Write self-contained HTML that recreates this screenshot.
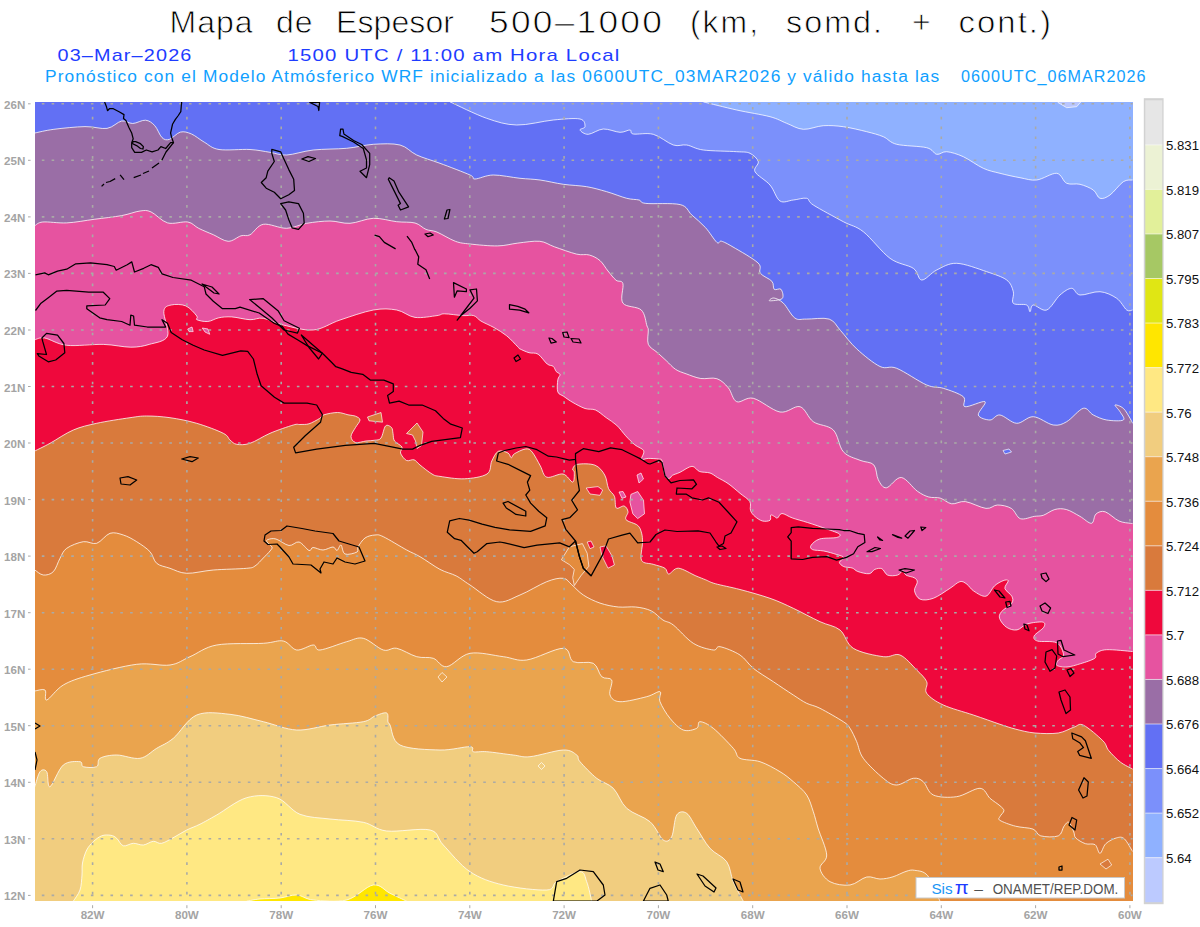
<!DOCTYPE html>
<html><head><meta charset="utf-8"><style>
html,body{margin:0;padding:0;background:#fff;width:1200px;height:927px;overflow:hidden}
svg{display:block}
</style></head><body>
<svg width="1200" height="927" viewBox="0 0 1200 927">
<rect width="1200" height="927" fill="#fff"/>
<text x="169.5" y="33.3" font-family="Liberation Sans, sans-serif" font-size="32" fill="#000" textLength="83.0" lengthAdjust="spacing" stroke="#fff" stroke-width="0.8">Mapa</text><text x="276" y="33.3" font-family="Liberation Sans, sans-serif" font-size="32" fill="#000" textLength="36.5" lengthAdjust="spacing" stroke="#fff" stroke-width="0.8">de</text><text x="336" y="33.3" font-family="Liberation Sans, sans-serif" font-size="32" fill="#000" textLength="118.0" lengthAdjust="spacing" stroke="#fff" stroke-width="0.8">Espesor</text><text x="489" y="33.3" font-family="Liberation Sans, sans-serif" font-size="32" fill="#000" textLength="175.0" stroke="#fff" stroke-width="0.8" letter-spacing="2" lengthAdjust="spacingAndGlyphs">500&#8211;1000</text><text x="690" y="33.3" font-family="Liberation Sans, sans-serif" font-size="32" fill="#000" textLength="70.0" stroke="#fff" stroke-width="0.8" letter-spacing="2" lengthAdjust="spacingAndGlyphs">(km,</text><text x="786" y="33.3" font-family="Liberation Sans, sans-serif" font-size="32" fill="#000" textLength="98.0" stroke="#fff" stroke-width="0.8" letter-spacing="2" lengthAdjust="spacingAndGlyphs">somd.</text><text x="912" y="33.3" font-family="Liberation Sans, sans-serif" font-size="32" fill="#000" textLength="21.0" lengthAdjust="spacing" stroke="#fff" stroke-width="0.8">+</text><text x="958.5" y="33.3" font-family="Liberation Sans, sans-serif" font-size="32" fill="#000" textLength="94.5" stroke="#fff" stroke-width="0.8" letter-spacing="2" lengthAdjust="spacingAndGlyphs">cont.)</text><text x="57.5" y="60.6" font-family="Liberation Sans, sans-serif" font-size="17" fill="#1e3cff" textLength="135.0" letter-spacing="1" lengthAdjust="spacingAndGlyphs">03&#8211;Mar&#8211;2026</text><text x="287.5" y="60.6" font-family="Liberation Sans, sans-serif" font-size="17" fill="#1e3cff" textLength="333.0" letter-spacing="1" lengthAdjust="spacingAndGlyphs">1500 UTC / 11:00 am Hora Local</text><text x="45" y="82.2" font-family="Liberation Sans, sans-serif" font-size="15.6" fill="#10a0ff" textLength="895.4" letter-spacing="1" lengthAdjust="spacingAndGlyphs">Pronóstico con el Modelo Atmósferico WRF inicializado a las 0600UTC_03MAR2026 y válido hasta las</text><text x="961" y="82.2" font-family="Liberation Sans, sans-serif" font-size="15.6" fill="#10a0ff" textLength="185.6" letter-spacing="1" lengthAdjust="spacingAndGlyphs">0600UTC_06MAR2026</text>
<defs><clipPath id="mc"><rect x="35" y="102" width="1098" height="799"/></clipPath></defs>
<g clip-path="url(#mc)">
<rect x="19.799999999999997" y="86.9" width="1127.8" height="829.3" fill="#8fb1ff"/><path d="M703.3,86.9 L703.3,101.9 C708.9,103.2 725.6,107.5 736.7,110.0 C747.8,112.5 761.7,114.5 770.0,116.7 C778.3,118.9 781.2,121.2 786.7,123.3 C792.2,125.4 797.2,128.9 803.3,129.3 C809.4,129.7 816.6,126.1 823.3,125.7 C830.0,125.3 836.1,125.7 843.3,126.7 C850.5,127.7 860.0,130.0 866.7,131.7 C873.4,133.4 878.3,134.6 883.3,136.7 C888.3,138.8 889.5,142.5 896.7,144.3 C903.9,146.1 920.0,146.0 926.7,147.7 C933.4,149.4 933.4,153.6 936.7,154.3 C940.0,155.0 942.3,151.3 946.7,151.7 C951.1,152.1 957.2,153.9 963.3,156.7 C969.4,159.5 977.2,165.5 983.3,168.3 C989.4,171.1 993.9,171.7 1000.0,173.3 C1006.1,174.9 1013.9,176.6 1020.0,177.7 C1026.1,178.8 1030.6,180.7 1036.7,180.0 C1042.8,179.3 1051.7,172.8 1056.7,173.3 C1061.7,173.9 1062.8,181.5 1066.7,183.3 C1070.6,185.1 1075.6,183.2 1080.0,184.3 C1084.4,185.4 1090.0,187.7 1093.3,190.0 C1096.6,192.3 1097.2,197.5 1100.0,198.3 C1102.8,199.1 1106.1,197.8 1110.0,195.0 C1113.9,192.2 1119.5,184.2 1123.3,181.7 C1127.1,179.2 1131.0,180.3 1132.6,180.0 L1147.6,180.0 L1147.6,916.2 L19.8,916.2 L19.8,86.9 Z" fill="#7b90fb"/><path d="M450.0,86.9 L450.0,101.9 C456.1,104.6 475.6,114.5 486.7,118.3 C497.8,122.1 505.6,124.7 516.7,125.0 C527.8,125.3 542.8,121.0 553.3,120.0 C563.8,119.0 574.7,117.9 580.0,119.0 C585.3,120.1 585.0,124.9 585.0,126.7 C585.0,128.5 579.5,128.7 580.0,130.0 C580.5,131.3 584.4,134.5 588.3,134.3 C592.2,134.1 598.0,129.3 603.3,129.0 C608.6,128.7 615.5,132.1 620.0,132.3 C624.5,132.5 627.8,129.7 630.0,130.0 C632.2,130.3 629.4,133.3 633.3,134.0 C637.2,134.7 646.6,132.5 653.3,134.3 C660.0,136.1 667.7,143.2 673.3,145.0 C678.9,146.8 681.7,144.2 686.7,145.0 C691.7,145.8 695.0,148.9 703.3,150.0 C711.6,151.1 728.9,151.1 736.7,151.7 C744.5,152.2 746.4,151.6 750.0,153.3 C753.6,155.0 757.5,158.6 758.3,161.7 C759.1,164.8 753.0,167.8 755.0,171.7 C757.0,175.6 765.8,180.1 770.0,185.0 C774.2,189.9 776.1,198.5 780.0,201.0 C783.9,203.5 788.8,200.4 793.3,200.0 C797.8,199.6 803.4,197.5 806.7,198.3 C810.0,199.1 807.2,201.1 813.3,205.0 C819.4,208.9 835.0,217.2 843.3,221.7 C851.6,226.1 855.5,225.6 863.3,231.7 C871.1,237.8 881.7,252.2 890.0,258.3 C898.3,264.4 908.0,264.7 913.3,268.3 C918.6,271.9 917.8,279.7 921.7,280.0 C925.6,280.3 930.9,272.8 936.7,270.0 C942.5,267.2 948.4,263.0 956.7,263.3 C965.0,263.6 978.4,268.9 986.7,271.7 C995.0,274.5 1002.3,276.7 1006.7,280.0 C1011.1,283.3 1012.2,287.8 1013.3,291.7 C1014.4,295.6 1011.1,301.1 1013.3,303.3 C1015.5,305.5 1023.9,303.6 1026.7,305.0 C1029.5,306.4 1028.9,311.7 1030.0,311.7 C1031.1,311.7 1030.5,305.3 1033.3,305.0 C1036.1,304.7 1042.2,311.7 1046.7,310.0 C1051.2,308.3 1055.8,298.6 1060.0,295.0 C1064.2,291.4 1068.4,288.3 1071.7,288.3 C1075.0,288.3 1075.3,294.4 1080.0,295.0 C1084.7,295.6 1093.9,291.1 1100.0,291.7 C1106.1,292.2 1112.2,295.2 1116.7,298.3 C1121.2,301.4 1124.1,308.1 1126.7,310.0 C1129.3,311.9 1131.6,310.0 1132.6,310.0 L1147.6,310.0 L1147.6,916.2 L19.8,916.2 L19.8,86.9 Z" fill="#6270f4"/><path d="M19.8,133.0 L34.8,133.0 C38.0,132.4 45.5,130.4 53.9,129.3 C62.3,128.2 76.2,126.8 85.0,126.6 C93.8,126.4 100.9,129.3 107.0,128.4 C113.1,127.5 117.4,121.8 121.7,121.0 C126.0,120.2 128.7,123.6 132.7,123.5 C136.7,123.4 141.9,119.8 145.6,120.2 C149.3,120.6 152.1,122.8 154.8,125.7 C157.5,128.6 159.6,135.3 162.0,137.6 C164.4,139.9 166.3,140.3 169.4,139.4 C172.5,138.5 176.7,133.0 180.4,132.1 C184.1,131.2 187.5,132.3 191.5,134.0 C195.5,135.7 199.7,139.6 204.3,142.2 C208.9,144.8 211.4,148.3 219.0,149.5 C226.6,150.7 241.5,149.0 250.0,149.5 C258.5,150.0 263.9,151.4 270.0,152.3 C276.1,153.2 279.5,155.4 286.7,155.0 C293.9,154.6 303.3,151.1 313.3,150.0 C323.3,148.9 336.7,149.2 346.7,148.3 C356.7,147.4 364.4,144.9 373.3,144.3 C382.2,143.8 392.8,143.2 400.0,145.0 C407.2,146.8 410.0,151.9 416.7,155.0 C423.4,158.1 431.1,160.0 440.0,163.3 C448.9,166.6 464.2,172.4 470.0,175.0 C475.8,177.6 471.1,179.0 475.0,179.0 C478.9,179.0 485.8,175.1 493.3,175.0 C500.8,174.9 512.2,177.5 520.0,178.3 C527.8,179.1 532.8,179.0 540.0,180.0 C547.2,181.0 555.5,183.2 563.3,184.3 C571.1,185.4 579.5,185.5 586.7,186.7 C593.9,187.9 600.0,189.8 606.7,191.7 C613.4,193.6 621.3,196.9 626.7,198.3 C632.1,199.7 635.8,199.2 639.0,200.0 C642.2,200.8 638.9,202.6 645.8,203.4 C652.7,204.2 672.6,202.7 680.2,204.6 C687.9,206.5 687.5,211.1 691.7,214.9 C695.9,218.7 701.2,222.9 705.4,227.5 C709.6,232.1 714.2,240.1 716.9,242.4 C719.6,244.7 718.8,240.4 721.5,241.2 C724.2,242.0 726.9,243.4 733.0,247.0 C739.1,250.6 753.5,258.6 758.1,263.0 C762.7,267.4 758.1,270.2 760.4,273.3 C762.7,276.4 769.6,278.6 771.9,281.3 C774.2,284.0 772.7,288.0 774.2,289.3 C775.7,290.6 779.7,287.8 781.0,289.3 C782.3,290.8 784.1,296.6 782.2,298.5 C780.3,300.4 771.0,300.9 769.6,300.8 C768.2,300.7 771.7,297.6 774.0,298.0 C776.3,298.4 779.8,299.8 783.3,303.1 C786.8,306.4 791.0,315.3 794.8,318.0 C798.6,320.7 800.6,318.9 806.3,319.1 C812.0,319.3 823.5,317.2 829.2,319.1 C834.9,321.0 836.0,325.6 840.6,330.6 C845.2,335.6 850.1,342.9 856.7,348.9 C863.3,354.9 873.3,363.3 880.0,366.5 C886.7,369.7 888.9,365.2 896.7,368.3 C904.5,371.4 918.9,381.7 926.7,385.0 C934.5,388.3 937.2,386.4 943.3,388.3 C949.4,390.2 959.7,393.6 963.3,396.7 C966.9,399.8 961.4,405.9 965.0,406.7 C968.6,407.5 982.8,400.3 985.0,401.7 C987.2,403.1 977.5,411.9 978.3,415.0 C979.1,418.1 986.4,420.0 990.0,420.0 C993.6,420.0 995.5,414.4 1000.0,415.0 C1004.5,415.6 1011.2,423.0 1016.7,423.3 C1022.2,423.6 1027.2,416.4 1033.3,416.7 C1039.4,417.0 1047.7,424.2 1053.3,425.0 C1058.9,425.8 1061.7,424.5 1066.7,421.7 C1071.7,418.9 1078.9,409.4 1083.3,408.3 C1087.7,407.2 1089.4,413.1 1093.3,415.0 C1097.2,416.9 1101.7,419.2 1106.7,420.0 C1111.7,420.8 1121.1,421.4 1123.3,420.0 C1125.5,418.6 1121.4,414.2 1120.0,411.7 C1118.6,409.2 1114.5,405.6 1115.0,405.0 C1115.5,404.4 1120.8,406.1 1123.3,408.3 C1125.8,410.5 1128.5,415.8 1130.0,418.3 C1131.5,420.8 1132.2,422.5 1132.6,423.3 L1147.6,423.3 L1147.6,916.2 L19.8,916.2 Z" fill="#9a6ea6"/><path d="M19.8,225.7 L34.8,225.7 C36.1,225.1 37.5,222.5 42.8,222.0 C48.1,221.5 58.1,223.3 66.7,222.9 C75.3,222.5 85.0,220.5 94.2,219.3 C103.4,218.1 114.1,217.0 121.7,215.6 C129.3,214.2 135.1,211.6 140.0,211.0 C144.9,210.4 146.4,209.9 151.0,211.9 C155.6,213.9 161.5,221.2 167.6,222.9 C173.7,224.6 182.6,221.1 187.8,222.0 C193.0,222.9 194.5,226.3 198.8,228.4 C203.1,230.5 208.6,232.7 213.5,234.8 C218.4,237.0 223.6,241.1 228.2,241.3 C232.8,241.5 237.4,236.9 241.0,235.8 C244.6,234.7 246.3,236.7 250.0,234.8 C253.7,232.9 257.2,225.4 263.3,224.3 C269.4,223.2 279.5,228.5 286.7,228.3 C293.9,228.1 299.5,224.5 306.7,223.3 C313.9,222.1 322.8,221.0 330.0,221.0 C337.2,221.0 342.8,223.8 350.0,223.3 C357.2,222.9 365.5,218.6 373.3,218.3 C381.1,218.0 389.8,220.9 396.7,221.7 C403.6,222.5 410.1,221.7 415.0,223.0 C419.9,224.3 422.3,227.9 426.0,229.4 C429.7,230.9 432.1,230.1 437.0,232.1 C441.9,234.1 449.9,239.3 455.4,241.3 C460.9,243.3 463.0,243.2 470.0,244.0 C477.0,244.8 489.6,246.1 497.6,245.9 C505.6,245.8 510.8,243.9 517.8,243.1 C524.8,242.3 533.7,240.7 539.8,241.3 C545.9,241.9 548.3,244.7 554.4,246.8 C560.5,248.9 570.7,252.7 576.5,254.1 C582.3,255.5 585.4,253.9 589.3,255.0 C593.2,256.1 596.9,257.9 600.0,260.6 C603.1,263.3 605.3,267.7 608.0,271.0 C610.7,274.3 613.5,278.1 616.0,280.2 C618.5,282.3 621.8,279.8 622.9,283.6 C624.0,287.4 619.8,298.7 622.9,303.1 C626.0,307.5 637.3,306.2 641.3,310.0 C645.3,313.8 645.8,322.7 647.0,326.0 C648.2,329.3 648.1,326.9 648.3,330.0 C648.5,333.1 646.8,340.5 648.3,344.3 C649.8,348.1 654.4,349.8 657.4,352.6 C660.4,355.4 663.5,358.1 666.5,360.9 C669.5,363.7 672.2,367.1 675.5,369.3 C678.8,371.5 681.9,372.3 686.1,373.8 C690.3,375.3 695.7,377.7 700.8,378.5 C705.9,379.3 712.3,377.1 716.9,378.7 C721.5,380.2 725.0,384.0 728.3,387.8 C731.6,391.6 732.5,399.9 736.7,401.7 C740.9,403.4 746.1,396.6 753.3,398.3 C760.5,400.0 772.2,410.6 780.0,412.0 C787.8,413.4 794.5,405.1 800.0,406.7 C805.5,408.3 807.8,417.8 813.3,421.7 C818.8,425.6 828.3,425.0 833.3,430.0 C838.3,435.0 838.8,446.6 843.3,451.7 C847.8,456.8 854.9,458.1 860.0,460.3 C865.1,462.5 870.8,461.6 873.8,464.9 C876.8,468.1 876.2,476.0 878.3,479.8 C880.4,483.6 882.6,488.2 886.4,487.8 C890.2,487.4 896.1,476.9 901.3,477.5 C906.4,478.1 912.7,487.9 917.3,491.2 C921.9,494.4 925.0,495.9 928.8,497.0 C932.6,498.1 936.4,497.0 940.2,498.1 C944.0,499.2 947.5,503.2 951.7,503.8 C955.9,504.4 959.7,500.8 965.4,501.6 C971.1,502.4 980.6,507.8 986.0,508.4 C991.4,509.0 993.3,505.0 997.5,505.0 C1001.7,505.0 1007.5,506.1 1011.3,508.4 C1015.1,510.7 1016.6,517.4 1020.4,518.7 C1024.2,520.0 1030.4,517.0 1034.2,516.4 C1038.0,515.8 1039.9,516.4 1043.3,515.3 C1046.7,514.1 1051.0,510.5 1054.8,509.5 C1058.6,508.5 1062.1,508.4 1066.3,509.5 C1070.5,510.6 1075.8,514.1 1080.0,516.4 C1084.2,518.7 1088.8,523.7 1091.5,523.3 C1094.2,522.9 1093.7,515.9 1096.0,514.0 C1098.3,512.1 1101.4,510.6 1105.2,511.8 C1109.0,513.0 1114.8,519.1 1119.0,521.0 C1123.2,522.9 1128.1,522.9 1130.4,523.3 C1132.7,523.7 1132.2,523.5 1132.6,523.5 L1147.6,523.5 L1147.6,916.2 L19.8,916.2 Z" fill="#e653a0"/><path d="M19.8,339.8 L34.8,339.8 C36.4,339.5 39.4,337.1 44.7,338.0 C50.0,338.9 56.9,344.2 66.7,345.3 C76.5,346.4 92.6,344.1 103.3,344.4 C114.0,344.7 123.2,347.2 130.8,347.2 C138.5,347.2 143.1,346.2 149.2,344.4 C155.3,342.6 165.1,341.7 167.5,336.2 C169.9,330.7 163.2,316.6 163.8,311.4 C164.4,306.2 167.5,305.9 171.2,305.0 C174.9,304.1 181.5,304.1 185.8,305.9 C190.1,307.7 195.0,313.7 196.8,316.0 C198.6,318.3 195.0,318.8 196.8,319.7 C198.6,320.6 204.1,321.8 207.8,321.5 C211.5,321.2 214.8,318.6 218.8,317.8 C222.8,317.0 226.5,316.6 231.7,316.9 C236.9,317.2 244.7,319.5 250.0,319.7 C255.3,319.9 257.8,317.4 263.3,318.3 C268.9,319.2 275.0,323.1 283.3,325.0 C291.6,326.9 303.9,330.8 313.3,330.0 C322.8,329.2 330.0,323.3 340.0,320.0 C350.0,316.7 363.9,311.7 373.3,310.0 C382.8,308.3 389.8,308.8 396.7,310.0 C403.6,311.2 408.3,316.5 415.0,317.4 C421.7,318.3 432.1,316.2 437.0,315.6 C441.9,315.0 440.1,313.8 444.4,313.8 C448.7,313.8 457.8,315.3 462.7,315.6 C467.6,315.9 470.6,314.7 473.7,315.6 C476.8,316.5 477.6,319.1 481.0,321.1 C484.4,323.1 489.6,325.1 493.9,327.5 C498.2,329.9 502.7,332.6 506.7,335.8 C510.7,339.0 515.6,344.6 517.8,346.8 C520.0,349.0 518.1,347.9 520.0,348.9 C521.9,349.9 526.0,351.8 529.0,352.7 C532.0,353.6 535.1,352.3 538.1,354.2 C541.1,356.1 544.7,362.0 547.2,364.0 C549.7,366.0 551.7,365.1 553.2,366.3 C554.7,367.6 555.1,370.1 556.2,371.5 C557.3,372.9 559.7,373.1 560.0,374.5 C560.3,375.9 558.2,376.9 557.8,379.8 C557.4,382.7 556.8,389.1 557.8,391.9 C558.8,394.7 561.3,394.6 563.8,396.4 C566.3,398.2 569.4,400.5 572.9,402.5 C576.4,404.5 581.2,407.2 585.0,408.5 C588.8,409.8 592.0,408.5 595.5,410.0 C599.0,411.5 602.6,415.1 606.1,417.6 C609.6,420.1 613.3,422.2 616.6,425.2 C619.9,428.2 622.7,432.5 625.7,435.8 C628.7,439.1 631.8,442.3 634.8,444.8 C637.8,447.3 642.7,448.4 643.8,450.8 C644.9,453.2 640.8,457.8 641.5,459.1 C642.2,460.4 645.4,458.4 648.3,458.4 C651.2,458.4 656.7,458.7 659.0,459.1 C661.3,459.5 661.0,458.2 662.0,461.0 C663.0,463.8 663.8,473.1 665.0,476.0 C666.2,478.9 668.2,478.4 669.5,478.3 C670.8,478.2 670.8,476.3 672.5,475.3 C674.2,474.3 676.8,473.8 680.0,472.3 C683.2,470.8 688.8,466.4 692.0,466.3 C695.2,466.2 696.5,470.4 699.5,471.5 C702.5,472.6 707.0,472.0 710.0,473.0 C713.0,474.0 714.5,475.8 717.5,477.5 C720.5,479.2 724.2,480.9 728.0,483.5 C731.8,486.1 736.4,490.3 740.0,493.3 C743.6,496.3 748.0,498.6 749.8,501.5 C751.5,504.4 749.6,508.0 750.5,510.5 C751.4,513.0 753.0,514.8 755.0,516.5 C757.0,518.2 760.0,520.4 762.5,521.0 C765.0,521.6 768.6,521.3 770.0,520.3 C771.4,519.3 770.0,515.6 770.8,515.0 C771.5,514.4 773.4,516.0 774.5,516.5 C775.6,517.0 776.2,518.5 777.5,518.0 C778.8,517.5 779.5,513.5 782.0,513.5 C784.5,513.5 788.2,516.5 792.5,518.0 C796.8,519.5 801.8,520.7 807.5,522.5 C813.2,524.3 821.4,527.1 826.7,529.0 C832.0,530.9 837.8,532.6 839.4,534.0 C841.0,535.4 839.9,536.7 836.6,537.5 C833.3,538.3 823.9,537.7 819.6,539.0 C815.4,540.3 812.3,543.5 811.1,545.3 C809.9,547.1 810.4,548.6 812.5,549.6 C814.6,550.6 819.8,550.2 823.8,551.0 C827.8,551.8 833.3,553.4 836.6,554.5 C839.9,555.6 843.2,556.1 843.7,557.4 C844.2,558.7 839.4,560.8 839.4,562.3 C839.4,563.8 841.6,565.6 843.7,566.6 C845.8,567.6 849.9,567.2 852.2,568.0 C854.6,568.8 855.0,570.5 857.8,571.5 C860.6,572.5 866.4,574.1 869.2,573.7 C872.0,573.4 872.7,570.2 874.8,569.4 C876.9,568.6 879.8,567.8 881.9,568.7 C884.0,569.7 885.0,574.0 887.6,575.1 C890.2,576.2 894.9,575.8 897.5,575.1 C900.1,574.4 901.7,570.8 903.1,570.8 C904.5,570.8 904.1,573.9 906.0,575.1 C907.9,576.3 912.6,576.7 914.5,577.9 C916.4,579.1 917.3,580.1 917.3,582.2 C917.3,584.3 914.0,587.9 914.5,590.7 C915.0,593.5 917.0,597.9 920.1,599.2 C923.2,600.5 928.3,600.1 933.3,598.3 C938.3,596.5 945.5,591.1 950.0,588.3 C954.5,585.5 957.2,582.3 960.0,581.6 C962.8,580.9 964.6,582.6 966.9,584.2 C969.2,585.8 970.6,589.1 973.8,591.1 C977.0,593.1 982.4,597.1 985.9,596.2 C989.4,595.3 991.6,588.5 994.5,585.9 C997.4,583.3 1000.8,581.6 1003.1,580.7 C1005.4,579.8 1008.0,579.4 1008.3,580.7 C1008.6,582.0 1004.3,585.9 1004.9,588.5 C1005.5,591.1 1010.6,593.8 1011.8,596.2 C1012.9,598.6 1013.5,600.5 1011.8,603.1 C1010.1,605.7 1003.4,609.2 1001.4,611.8 C999.4,614.4 998.8,616.1 999.7,618.7 C1000.6,621.3 1003.7,625.4 1006.6,627.3 C1009.5,629.2 1013.5,630.5 1017.0,629.9 C1020.5,629.3 1023.0,625.2 1027.3,623.9 C1031.6,622.6 1040.1,621.5 1042.8,622.1 C1045.5,622.7 1045.1,625.0 1043.7,627.3 C1042.3,629.6 1035.2,633.6 1034.2,635.9 C1033.2,638.2 1034.0,640.0 1037.7,641.1 C1041.5,642.2 1052.4,640.5 1056.7,642.8 C1061.0,645.1 1063.3,652.0 1063.6,654.9 C1063.9,657.8 1059.6,658.4 1058.4,660.1 C1057.2,661.8 1055.3,664.1 1056.7,665.3 C1058.1,666.4 1063.0,667.3 1067.0,667.0 C1071.0,666.7 1076.2,665.0 1080.8,663.6 C1085.4,662.2 1092.0,660.1 1094.6,658.4 C1097.2,656.7 1094.3,654.7 1096.3,653.2 C1098.3,651.8 1100.7,650.0 1106.7,649.7 C1112.8,649.4 1128.3,651.2 1132.6,651.5 L1147.6,651.5 L1147.6,916.2 L19.8,916.2 Z" fill="#ef083c"/><path d="M19.8,451.0 L34.8,451.0 C37.3,449.7 43.6,446.8 50.0,443.3 C56.4,439.8 65.5,433.3 73.3,430.0 C81.1,426.7 87.2,425.4 96.7,423.3 C106.2,421.2 121.7,418.9 130.0,417.7 C138.3,416.5 140.0,416.0 146.7,416.0 C153.4,416.0 161.7,416.5 170.0,417.7 C178.3,418.9 187.8,420.7 196.7,423.3 C205.6,425.9 217.8,430.5 223.3,433.3 C228.9,436.1 227.8,438.2 230.0,440.0 C232.2,441.8 233.4,443.8 236.7,444.3 C240.0,444.9 244.4,445.1 250.0,443.3 C255.6,441.5 262.8,436.4 270.0,433.3 C277.2,430.2 288.3,426.5 293.3,425.0 C298.3,423.5 297.4,424.7 300.0,424.5 C302.6,424.3 305.8,424.8 309.0,423.8 C312.2,422.8 317.0,420.0 319.5,418.5 C322.0,417.0 321.0,415.8 324.0,414.8 C327.0,413.8 333.5,412.5 337.5,412.5 C341.5,412.5 345.0,414.1 348.0,414.8 C351.0,415.4 353.5,415.4 355.5,416.2 C357.5,417.1 360.0,418.1 360.0,420.0 C360.0,421.9 357.0,424.8 355.5,427.5 C354.0,430.2 351.0,434.0 351.0,436.5 C351.0,439.0 353.0,441.8 355.5,442.5 C358.0,443.2 362.8,441.4 366.0,441.0 C369.2,440.6 372.5,440.8 375.0,440.2 C377.5,439.8 379.2,440.4 381.0,438.0 C382.8,435.6 383.8,427.8 385.5,426.0 C387.2,424.2 390.2,426.2 391.5,427.5 C392.8,428.8 392.5,431.2 393.0,433.5 C393.5,435.8 393.0,438.8 394.5,441.0 C396.0,443.2 401.0,445.0 402.0,447.0 C403.0,449.0 399.8,450.8 400.5,453.0 C401.2,455.2 404.2,459.4 406.5,460.5 C408.8,461.6 411.8,459.0 414.0,459.8 C416.2,460.5 417.0,462.6 420.0,465.0 C423.0,467.4 428.7,472.1 432.0,474.0 C435.3,475.9 434.6,475.6 440.0,476.4 C445.4,477.2 456.5,479.2 464.3,478.8 C472.1,478.4 482.4,477.0 487.0,474.0 C491.6,471.0 489.9,464.8 491.8,461.0 C493.7,457.2 495.6,452.6 498.3,451.3 C501.0,450.0 505.9,451.9 508.0,453.0 C510.1,454.1 510.1,457.7 511.2,457.8 C512.3,457.9 512.0,455.3 514.4,453.8 C516.8,452.3 522.8,449.2 525.8,448.9 C528.8,448.6 529.8,449.3 532.2,452.1 C534.6,454.9 537.9,461.7 540.3,465.9 C542.7,470.1 543.0,475.8 546.8,477.2 C550.6,478.6 558.7,473.2 563.0,474.0 C567.3,474.8 570.8,482.4 572.7,482.1 C574.6,481.8 574.3,474.6 574.3,472.4 C574.3,470.2 572.2,470.5 572.7,469.1 C573.2,467.8 573.8,465.0 577.5,464.3 C581.2,463.6 590.5,463.4 595.0,465.2 C599.5,467.0 602.5,471.1 604.7,475.0 C607.0,478.9 606.9,484.9 608.5,488.5 C610.1,492.1 613.1,493.1 614.4,496.3 C615.7,499.6 614.7,506.4 616.3,508.0 C617.9,509.6 622.1,505.4 624.1,506.0 C626.1,506.6 627.7,509.5 628.0,511.8 C628.3,514.1 624.4,517.3 626.0,519.6 C627.6,521.9 635.1,523.1 637.7,525.4 C640.3,527.7 640.8,530.3 641.6,533.2 C642.4,536.1 642.5,538.4 642.5,542.9 C642.5,547.4 639.8,556.8 641.6,560.4 C643.4,564.0 649.3,563.0 653.2,564.3 C657.1,565.6 662.3,566.6 664.9,568.2 C667.5,569.8 666.5,574.0 668.7,574.0 C671.0,574.0 673.9,567.9 678.4,568.2 C682.9,568.5 691.4,574.0 695.9,575.9 C700.4,577.8 702.4,578.5 705.6,579.8 C708.8,581.1 709.6,582.1 715.3,583.7 C721.0,585.3 730.9,587.1 740.0,589.5 C749.1,591.9 761.1,595.2 770.0,598.3 C778.9,601.4 785.0,604.4 793.3,608.3 C801.6,612.2 812.2,618.1 820.0,621.7 C827.8,625.3 834.5,625.6 840.0,630.0 C845.5,634.4 846.1,643.8 853.3,648.3 C860.5,652.8 875.5,655.6 883.3,656.7 C891.1,657.8 894.4,652.8 900.0,655.0 C905.6,657.2 912.2,665.5 916.7,670.0 C921.2,674.5 925.0,677.8 926.7,681.7 C928.4,685.6 923.9,689.4 926.7,693.3 C929.5,697.2 935.5,701.4 943.3,705.0 C951.1,708.6 963.8,711.8 973.3,715.0 C982.8,718.2 993.0,721.9 1000.0,724.3 C1007.0,726.6 1009.7,727.6 1015.5,729.1 C1021.3,730.6 1027.9,732.4 1035.0,733.0 C1042.1,733.6 1051.8,734.0 1058.3,733.0 C1064.8,732.0 1069.6,728.5 1073.8,727.2 C1078.0,725.9 1078.7,722.9 1083.5,725.2 C1088.3,727.5 1098.7,736.6 1102.9,740.8 C1107.1,745.0 1105.8,747.0 1108.7,750.5 C1111.6,754.0 1116.4,759.0 1120.4,762.1 C1124.4,765.2 1130.6,767.9 1132.6,769.0 L1147.6,769.0 L1147.6,916.2 L19.8,916.2 Z" fill="#d97a3c"/><path d="M19.8,570.0 L34.8,570.0 C36.2,570.8 40.2,574.7 43.3,575.0 C46.4,575.3 50.5,574.5 53.3,571.7 C56.1,568.9 57.8,562.2 60.0,558.3 C62.2,554.4 62.8,551.1 66.7,548.3 C70.6,545.5 78.3,542.5 83.3,541.7 C88.3,540.9 92.2,544.7 96.7,543.3 C101.2,541.9 105.6,534.7 110.0,533.3 C114.4,531.9 118.8,533.6 123.3,535.0 C127.8,536.4 132.2,538.9 136.7,541.7 C141.1,544.5 146.7,548.1 150.0,551.7 C153.3,555.3 153.4,560.5 156.7,563.3 C160.0,566.1 165.0,566.6 170.0,568.3 C175.0,570.0 179.5,573.0 186.7,573.3 C193.9,573.6 203.3,570.8 213.3,570.0 C223.3,569.2 239.8,569.0 246.7,568.3 C253.6,567.6 252.2,567.7 255.0,566.0 C257.8,564.3 260.8,560.5 263.3,558.0 C265.8,555.5 268.6,552.8 270.0,551.0 C271.4,549.2 272.5,548.5 272.0,547.0 C271.5,545.5 267.7,543.2 267.0,542.0 C266.3,540.8 266.5,540.0 268.0,539.5 C269.5,539.0 272.5,538.0 276.0,539.0 C279.5,540.0 285.2,545.0 289.0,545.5 C292.8,546.0 295.7,541.2 299.0,542.0 C302.3,542.8 306.7,549.6 309.0,550.5 C311.3,551.4 310.7,547.6 313.0,547.5 C315.3,547.4 319.7,550.1 323.0,550.0 C326.3,549.9 330.7,546.9 333.0,547.0 C335.3,547.1 335.7,550.8 337.0,550.5 C338.3,550.2 339.7,544.4 341.0,545.0 C342.3,545.6 342.3,552.8 345.0,554.0 C347.7,555.2 354.8,553.2 357.0,552.0 C359.2,550.8 356.7,549.3 358.0,547.0 C359.3,544.7 362.2,540.0 365.0,538.0 C367.8,536.0 371.9,535.2 375.0,535.0 C378.1,534.8 378.0,534.2 383.3,536.7 C388.6,539.2 400.6,546.7 406.7,550.0 C412.8,553.3 414.4,553.5 420.0,556.7 C425.6,559.9 434.0,566.2 440.0,569.4 C446.0,572.6 451.2,573.3 456.2,575.9 C461.2,578.5 463.2,580.7 470.0,585.0 C476.8,589.3 488.4,600.0 496.7,601.7 C505.0,603.4 511.7,598.3 520.0,595.0 C528.3,591.7 539.5,584.5 546.7,581.7 C553.9,578.9 559.1,577.8 563.3,578.3 C567.5,578.8 568.4,581.9 571.7,584.7 C575.0,587.5 578.6,591.9 583.3,595.0 C588.0,598.1 594.2,601.1 600.0,603.1 C605.8,605.1 612.3,606.4 618.3,607.0 C624.2,607.6 630.2,606.4 635.7,607.0 C641.2,607.6 646.8,608.7 651.3,610.9 C655.8,613.1 659.2,617.6 662.9,620.0 C666.6,622.4 668.2,621.1 673.3,625.0 C678.4,628.9 686.6,639.1 693.3,643.3 C700.0,647.5 708.8,649.4 713.3,650.0 C717.8,650.6 715.5,645.9 720.0,646.7 C724.5,647.5 734.5,651.4 740.0,655.0 C745.5,658.6 747.8,663.8 753.3,668.3 C758.8,672.8 766.6,677.2 773.3,681.7 C780.0,686.2 787.7,691.4 793.3,695.0 C798.9,698.6 802.2,701.1 806.7,703.3 C811.2,705.5 813.9,705.2 820.0,708.3 C826.1,711.4 838.3,718.4 843.3,721.7 C848.3,725.0 847.8,725.0 850.0,728.3 C852.2,731.6 854.5,736.7 856.7,741.7 C858.9,746.7 858.9,752.2 863.3,758.3 C867.7,764.4 877.7,773.8 883.3,778.3 C888.9,782.8 891.7,785.0 896.7,785.0 C901.7,785.0 908.9,778.8 913.3,778.3 C917.7,777.8 920.0,778.9 923.3,781.7 C926.6,784.5 927.7,792.5 933.3,795.0 C938.9,797.5 948.9,797.8 956.7,796.7 C964.5,795.6 974.5,788.0 980.0,788.3 C985.5,788.6 986.7,795.4 990.0,798.3 C993.3,801.2 997.7,803.7 1000.0,805.8 C1002.3,807.9 1003.9,808.9 1003.9,810.7 C1003.9,812.5 1000.6,814.9 1000.0,816.5 C999.4,818.1 997.4,818.8 1000.0,820.4 C1002.6,822.0 1010.0,824.8 1015.5,826.2 C1021.0,827.7 1028.8,827.5 1033.0,829.1 C1037.2,830.7 1036.6,834.8 1040.8,835.9 C1045.0,837.0 1054.4,837.5 1058.3,835.9 C1062.2,834.3 1062.2,828.5 1064.0,826.2 C1065.8,823.9 1067.3,821.3 1068.9,822.3 C1070.5,823.3 1072.7,829.4 1073.8,832.0 C1074.9,834.6 1073.8,835.9 1075.7,837.9 C1077.6,839.9 1082.2,842.6 1085.4,843.7 C1088.6,844.8 1092.7,843.1 1095.1,844.7 C1097.5,846.3 1098.2,853.6 1100.0,853.4 C1101.8,853.2 1103.0,846.3 1105.8,843.7 C1108.5,841.1 1113.4,838.7 1116.5,837.9 C1119.6,837.1 1121.6,836.5 1124.3,838.8 C1127.0,841.1 1131.2,849.4 1132.6,851.5 L1147.6,851.5 L1147.6,916.2 L19.8,916.2 Z" fill="#e48c3d"/><path d="M19.8,691.0 L34.8,691.0 C36.5,690.8 43.0,688.5 45.0,690.0 C47.0,691.5 43.7,700.8 46.7,700.0 C49.8,699.2 56.1,689.2 63.3,685.0 C70.5,680.8 77.8,678.5 90.0,675.0 C102.2,671.5 123.4,666.0 136.7,664.3 C150.0,662.6 161.1,666.3 170.0,665.0 C178.9,663.7 182.2,660.0 190.0,656.7 C197.8,653.4 204.5,647.2 216.7,645.0 C228.9,642.8 252.2,644.0 263.3,643.3 C274.4,642.6 277.7,639.9 283.3,641.0 C288.9,642.1 291.7,649.3 296.7,650.0 C301.7,650.7 309.4,645.0 313.3,645.0 C317.2,645.0 314.4,650.5 320.0,650.0 C325.6,649.5 339.5,643.7 346.7,641.7 C353.9,639.8 357.2,636.9 363.3,638.3 C369.4,639.7 377.7,648.3 383.3,650.0 C388.9,651.7 391.1,647.2 396.7,648.3 C402.3,649.4 410.6,655.0 416.7,656.7 C422.8,658.4 428.3,656.6 433.3,658.3 C438.3,660.0 440.6,667.5 446.7,666.7 C452.8,665.9 460.6,655.0 470.0,653.3 C479.4,651.6 493.9,655.6 503.3,656.7 C512.8,657.8 516.7,661.4 526.7,660.0 C536.7,658.6 555.5,648.0 563.3,648.3 C571.1,648.6 568.3,659.2 573.3,661.7 C578.3,664.2 588.6,660.8 593.3,663.3 C598.0,665.8 598.6,673.9 601.7,676.7 C604.8,679.5 610.3,677.0 611.7,680.0 C613.1,683.0 608.6,691.4 610.0,695.0 C611.4,698.6 613.9,701.4 620.0,701.7 C626.1,702.0 640.0,698.4 646.7,696.7 C653.4,695.0 657.8,690.9 660.0,691.7 C662.2,692.5 658.3,697.3 660.0,701.7 C661.7,706.1 666.1,713.6 670.0,718.3 C673.9,723.0 678.8,728.3 683.3,730.0 C687.8,731.7 693.9,729.7 696.7,728.3 C699.5,726.9 697.2,721.7 700.0,721.7 C702.8,721.7 707.8,723.9 713.3,728.3 C718.8,732.7 728.8,743.3 733.3,748.3 C737.8,753.3 735.5,756.1 740.0,758.3 C744.5,760.5 753.3,759.5 760.0,761.7 C766.7,763.9 774.5,768.4 780.0,771.7 C785.5,775.0 788.8,777.8 793.3,781.7 C797.8,785.6 803.4,790.0 806.7,795.0 C810.0,800.0 811.4,806.2 813.3,811.7 C815.2,817.2 815.8,820.8 818.0,828.0 C820.2,835.2 826.4,848.3 826.7,855.0 C827.0,861.7 819.5,863.8 820.0,868.3 C820.5,872.8 825.0,878.9 830.0,881.7 C835.0,884.5 843.9,885.8 850.0,885.0 C856.1,884.2 861.7,878.0 866.7,877.0 C871.7,876.0 875.6,879.0 880.0,879.0 C884.4,879.0 888.7,878.1 893.0,876.8 C897.3,875.5 902.4,872.5 906.0,871.4 C909.6,870.3 911.1,869.6 914.7,870.3 C918.3,871.0 923.5,870.6 927.7,875.7 C931.9,880.9 938.0,897.0 940.0,901.2 L940.0,916.2 L19.8,916.2 Z" fill="#eaa44e"/><path d="M19.8,786.7 L34.8,786.7 C35.7,784.2 38.0,774.2 40.0,771.7 C42.0,769.2 45.0,769.2 46.7,771.7 C48.4,774.2 47.2,787.8 50.0,786.7 C52.8,785.6 58.3,769.2 63.3,765.0 C68.3,760.8 76.7,761.4 80.0,761.7 C83.3,762.0 80.5,765.9 83.3,766.7 C86.1,767.5 93.9,768.1 96.7,766.7 C99.5,765.3 96.7,760.2 100.0,758.3 C103.3,756.3 110.0,755.0 116.7,755.0 C123.4,755.0 133.3,759.4 140.0,758.3 C146.7,757.2 151.1,751.6 156.7,748.3 C162.2,745.0 166.6,743.8 173.3,738.3 C180.0,732.8 187.2,719.0 196.7,715.0 C206.1,711.0 218.9,713.2 230.0,714.3 C241.1,715.4 252.2,719.1 263.3,721.7 C274.4,724.3 285.6,729.5 296.7,730.0 C307.8,730.5 318.9,726.4 330.0,725.0 C341.1,723.6 355.8,723.2 363.3,721.7 C370.8,720.2 371.1,717.5 375.0,716.0 C378.9,714.5 384.5,712.0 386.7,713.0 C388.9,714.0 387.4,720.0 388.0,722.0 C388.6,724.0 388.0,721.2 390.0,725.0 C392.0,728.8 391.7,740.8 400.0,745.0 C408.3,749.2 428.3,749.7 440.0,750.0 C451.7,750.3 464.4,746.4 470.0,746.7 C475.6,747.0 470.5,750.9 473.3,751.7 C476.1,752.5 480.0,751.2 486.7,751.7 C493.4,752.2 506.1,754.2 513.3,755.0 C520.5,755.8 521.7,757.5 530.0,756.7 C538.3,755.9 555.5,750.3 563.3,750.0 C571.1,749.7 573.9,753.0 576.7,755.0 C579.5,757.0 576.7,757.8 580.0,761.7 C583.3,765.6 591.2,773.9 596.7,778.3 C602.2,782.7 608.3,783.3 613.3,788.3 C618.3,793.3 620.6,802.7 626.7,808.3 C632.8,813.9 643.9,816.4 650.0,821.7 C656.1,827.0 659.7,837.5 663.3,840.0 C666.9,842.5 669.5,840.9 671.7,836.7 C673.9,832.5 674.2,818.9 676.7,815.0 C679.2,811.1 683.4,811.1 686.7,813.3 C690.0,815.5 692.8,822.5 696.7,828.3 C700.6,834.1 705.0,842.7 710.0,848.3 C715.0,853.9 722.8,856.1 726.7,861.7 C730.6,867.3 730.5,875.1 733.3,881.7 C736.1,888.3 741.6,898.0 743.3,901.2 L743.3,916.2 L19.8,916.2 Z" fill="#f1cd7f"/><path d="M73.3,916.2 L73.3,901.2 C74.4,899.3 78.5,894.4 80.0,890.0 C81.5,885.6 81.6,879.5 82.0,875.0 C82.4,870.5 81.7,867.2 82.5,863.0 C83.3,858.8 84.9,853.5 86.7,850.0 C88.5,846.5 90.8,844.1 93.3,841.7 C95.8,839.3 98.8,836.9 101.7,835.8 C104.6,834.7 108.3,834.9 110.8,835.3 C113.3,835.7 114.6,836.5 116.7,838.3 C118.8,840.0 120.5,845.0 123.3,845.8 C126.1,846.6 130.0,843.4 133.3,843.3 C136.6,843.2 140.0,845.3 143.3,845.0 C146.6,844.7 150.2,841.6 153.3,841.3 C156.4,841.0 158.1,844.1 161.7,843.3 C165.3,842.5 170.8,838.9 175.0,836.7 C179.2,834.5 182.5,832.1 186.7,830.0 C190.9,827.9 195.0,826.7 200.0,824.2 C205.0,821.7 208.9,819.4 216.7,815.0 C224.5,810.6 236.7,800.6 246.7,797.7 C256.7,794.8 267.8,794.9 276.7,797.7 C285.6,800.5 291.1,810.8 300.0,814.3 C308.9,817.8 319.4,817.7 330.0,819.0 C340.6,820.3 353.9,820.3 363.3,822.3 C372.8,824.3 375.6,829.7 386.7,831.0 C397.8,832.3 420.6,827.7 430.0,830.0 C439.4,832.3 436.6,838.0 443.3,845.0 C450.0,852.0 460.0,865.0 470.0,871.7 C480.0,878.4 490.5,882.0 503.3,885.0 C516.1,888.0 537.8,890.5 546.7,890.0 C555.6,889.5 551.2,884.8 556.7,881.7 C562.2,878.7 575.0,871.7 580.0,871.7 C585.0,871.7 584.8,876.8 586.7,881.7 C588.7,886.6 590.9,898.0 591.7,901.2 L591.7,916.2 Z" fill="#ffe883"/><path d="M246.7,916.2 L246.7,901.2 C248.9,900.8 254.4,899.5 260.0,899.0 C265.6,898.5 273.9,898.7 280.0,898.0 C286.1,897.3 291.1,894.7 296.7,895.0 C302.2,895.3 305.0,899.2 313.3,900.0 C321.6,900.8 336.7,902.5 346.7,900.0 C356.7,897.5 366.1,886.1 373.3,885.0 C380.5,883.9 384.4,890.6 390.0,893.3 C395.6,896.0 403.9,899.9 406.7,901.2 L406.7,916.2 Z" fill="#ffe600"/><polygon points="1056.7,97.0 1058.0,102.5 1066.7,107.7 1076.7,106.7 1085.0,97.0" fill="#b9c6ff" stroke="#fff" stroke-width="0.8" stroke-opacity="0.85"/><polygon points="438.0,677.0 442.0,672.5 447.0,677.0 442.0,682.0" fill="#eaa44e" stroke="#fff" stroke-width="0.8" stroke-opacity="0.85"/><polygon points="538.0,766.0 541.5,762.5 545.0,766.0 541.5,769.5" fill="#f1cd7f" stroke="#fff" stroke-width="0.8" stroke-opacity="0.85"/><polygon points="367.5,417.0 381.0,412.5 382.5,422.2 369.0,420.8" fill="#d97a3c" stroke="#fff" stroke-width="0.8" stroke-opacity="0.85"/><polygon points="406.5,433.5 417.0,423.0 423.0,432.0 421.5,445.5 417.0,448.5 415.5,441.0 412.5,435.0" fill="#d97a3c" stroke="#fff" stroke-width="0.8" stroke-opacity="0.85"/><polygon points="630.9,494.4 637.7,491.5 643.5,500.2 644.5,513.8 637.7,518.6 632.8,513.8 629.9,502.1" fill="#e653a0" stroke="#fff" stroke-width="0.8" stroke-opacity="0.85"/><polygon points="637.0,475.0 641.0,473.0 643.5,479.0 639.0,483.0" fill="#e653a0" stroke="#fff" stroke-width="0.8" stroke-opacity="0.85"/><polygon points="619.0,492.0 623.0,491.5 626.0,497.0 622.0,498.3" fill="#e653a0" stroke="#fff" stroke-width="0.8" stroke-opacity="0.85"/><polygon points="586.2,488.0 598.0,486.6 602.7,490.0 600.0,495.3 590.0,494.0" fill="#ef083c" stroke="#fff" stroke-width="0.8" stroke-opacity="0.85"/><polygon points="600.0,547.0 606.0,545.8 612.0,556.0 614.4,565.0 608.0,568.2 602.0,556.0" fill="#ef083c" stroke="#fff" stroke-width="0.8" stroke-opacity="0.85"/><polygon points="587.2,542.0 591.0,541.0 594.0,547.0 590.0,548.7" fill="#ef083c" stroke="#fff" stroke-width="0.8" stroke-opacity="0.85"/><polygon points="187.7,329.0 192.0,327.0 193.2,331.6 189.0,331.6" fill="#e653a0" stroke="#fff" stroke-width="0.8" stroke-opacity="0.85"/><polygon points="202.3,328.0 208.0,329.0 209.7,334.3 205.0,332.0" fill="#e653a0" stroke="#fff" stroke-width="0.8" stroke-opacity="0.85"/><polygon points="1003.0,450.5 1009.0,449.0 1011.5,452.0 1005.0,454.0" fill="#6270f4" stroke="#fff" stroke-width="0.8" stroke-opacity="0.85"/><polygon points="1100.0,864.0 1108.0,859.2 1111.7,865.0 1106.0,869.0" fill="#d97a3c" stroke="#fff" stroke-width="0.8" stroke-opacity="0.85"/><polygon points="561.4,559.7 569.4,546.8 582.4,543.6 587.2,553.3 588.9,566.2 580.8,575.9 574.3,585.6 572.7,577.5 574.3,569.4 569.4,564.6" fill="#e48c3d" stroke="#fff" stroke-width="0.8" stroke-opacity="0.85"/><g fill="none" stroke="#fff" stroke-width="0.9" stroke-opacity="0.85" stroke-linejoin="round"><path d="M703.3,101.9 C708.9,103.2 725.6,107.5 736.7,110.0 C747.8,112.5 761.7,114.5 770.0,116.7 C778.3,118.9 781.2,121.2 786.7,123.3 C792.2,125.4 797.2,128.9 803.3,129.3 C809.4,129.7 816.6,126.1 823.3,125.7 C830.0,125.3 836.1,125.7 843.3,126.7 C850.5,127.7 860.0,130.0 866.7,131.7 C873.4,133.4 878.3,134.6 883.3,136.7 C888.3,138.8 889.5,142.5 896.7,144.3 C903.9,146.1 920.0,146.0 926.7,147.7 C933.4,149.4 933.4,153.6 936.7,154.3 C940.0,155.0 942.3,151.3 946.7,151.7 C951.1,152.1 957.2,153.9 963.3,156.7 C969.4,159.5 977.2,165.5 983.3,168.3 C989.4,171.1 993.9,171.7 1000.0,173.3 C1006.1,174.9 1013.9,176.6 1020.0,177.7 C1026.1,178.8 1030.6,180.7 1036.7,180.0 C1042.8,179.3 1051.7,172.8 1056.7,173.3 C1061.7,173.9 1062.8,181.5 1066.7,183.3 C1070.6,185.1 1075.6,183.2 1080.0,184.3 C1084.4,185.4 1090.0,187.7 1093.3,190.0 C1096.6,192.3 1097.2,197.5 1100.0,198.3 C1102.8,199.1 1106.1,197.8 1110.0,195.0 C1113.9,192.2 1119.5,184.2 1123.3,181.7 C1127.1,179.2 1131.0,180.3 1132.6,180.0"/><path d="M450.0,101.9 C456.1,104.6 475.6,114.5 486.7,118.3 C497.8,122.1 505.6,124.7 516.7,125.0 C527.8,125.3 542.8,121.0 553.3,120.0 C563.8,119.0 574.7,117.9 580.0,119.0 C585.3,120.1 585.0,124.9 585.0,126.7 C585.0,128.5 579.5,128.7 580.0,130.0 C580.5,131.3 584.4,134.5 588.3,134.3 C592.2,134.1 598.0,129.3 603.3,129.0 C608.6,128.7 615.5,132.1 620.0,132.3 C624.5,132.5 627.8,129.7 630.0,130.0 C632.2,130.3 629.4,133.3 633.3,134.0 C637.2,134.7 646.6,132.5 653.3,134.3 C660.0,136.1 667.7,143.2 673.3,145.0 C678.9,146.8 681.7,144.2 686.7,145.0 C691.7,145.8 695.0,148.9 703.3,150.0 C711.6,151.1 728.9,151.1 736.7,151.7 C744.5,152.2 746.4,151.6 750.0,153.3 C753.6,155.0 757.5,158.6 758.3,161.7 C759.1,164.8 753.0,167.8 755.0,171.7 C757.0,175.6 765.8,180.1 770.0,185.0 C774.2,189.9 776.1,198.5 780.0,201.0 C783.9,203.5 788.8,200.4 793.3,200.0 C797.8,199.6 803.4,197.5 806.7,198.3 C810.0,199.1 807.2,201.1 813.3,205.0 C819.4,208.9 835.0,217.2 843.3,221.7 C851.6,226.1 855.5,225.6 863.3,231.7 C871.1,237.8 881.7,252.2 890.0,258.3 C898.3,264.4 908.0,264.7 913.3,268.3 C918.6,271.9 917.8,279.7 921.7,280.0 C925.6,280.3 930.9,272.8 936.7,270.0 C942.5,267.2 948.4,263.0 956.7,263.3 C965.0,263.6 978.4,268.9 986.7,271.7 C995.0,274.5 1002.3,276.7 1006.7,280.0 C1011.1,283.3 1012.2,287.8 1013.3,291.7 C1014.4,295.6 1011.1,301.1 1013.3,303.3 C1015.5,305.5 1023.9,303.6 1026.7,305.0 C1029.5,306.4 1028.9,311.7 1030.0,311.7 C1031.1,311.7 1030.5,305.3 1033.3,305.0 C1036.1,304.7 1042.2,311.7 1046.7,310.0 C1051.2,308.3 1055.8,298.6 1060.0,295.0 C1064.2,291.4 1068.4,288.3 1071.7,288.3 C1075.0,288.3 1075.3,294.4 1080.0,295.0 C1084.7,295.6 1093.9,291.1 1100.0,291.7 C1106.1,292.2 1112.2,295.2 1116.7,298.3 C1121.2,301.4 1124.1,308.1 1126.7,310.0 C1129.3,311.9 1131.6,310.0 1132.6,310.0"/><path d="M34.8,133.0 C38.0,132.4 45.5,130.4 53.9,129.3 C62.3,128.2 76.2,126.8 85.0,126.6 C93.8,126.4 100.9,129.3 107.0,128.4 C113.1,127.5 117.4,121.8 121.7,121.0 C126.0,120.2 128.7,123.6 132.7,123.5 C136.7,123.4 141.9,119.8 145.6,120.2 C149.3,120.6 152.1,122.8 154.8,125.7 C157.5,128.6 159.6,135.3 162.0,137.6 C164.4,139.9 166.3,140.3 169.4,139.4 C172.5,138.5 176.7,133.0 180.4,132.1 C184.1,131.2 187.5,132.3 191.5,134.0 C195.5,135.7 199.7,139.6 204.3,142.2 C208.9,144.8 211.4,148.3 219.0,149.5 C226.6,150.7 241.5,149.0 250.0,149.5 C258.5,150.0 263.9,151.4 270.0,152.3 C276.1,153.2 279.5,155.4 286.7,155.0 C293.9,154.6 303.3,151.1 313.3,150.0 C323.3,148.9 336.7,149.2 346.7,148.3 C356.7,147.4 364.4,144.9 373.3,144.3 C382.2,143.8 392.8,143.2 400.0,145.0 C407.2,146.8 410.0,151.9 416.7,155.0 C423.4,158.1 431.1,160.0 440.0,163.3 C448.9,166.6 464.2,172.4 470.0,175.0 C475.8,177.6 471.1,179.0 475.0,179.0 C478.9,179.0 485.8,175.1 493.3,175.0 C500.8,174.9 512.2,177.5 520.0,178.3 C527.8,179.1 532.8,179.0 540.0,180.0 C547.2,181.0 555.5,183.2 563.3,184.3 C571.1,185.4 579.5,185.5 586.7,186.7 C593.9,187.9 600.0,189.8 606.7,191.7 C613.4,193.6 621.3,196.9 626.7,198.3 C632.1,199.7 635.8,199.2 639.0,200.0 C642.2,200.8 638.9,202.6 645.8,203.4 C652.7,204.2 672.6,202.7 680.2,204.6 C687.9,206.5 687.5,211.1 691.7,214.9 C695.9,218.7 701.2,222.9 705.4,227.5 C709.6,232.1 714.2,240.1 716.9,242.4 C719.6,244.7 718.8,240.4 721.5,241.2 C724.2,242.0 726.9,243.4 733.0,247.0 C739.1,250.6 753.5,258.6 758.1,263.0 C762.7,267.4 758.1,270.2 760.4,273.3 C762.7,276.4 769.6,278.6 771.9,281.3 C774.2,284.0 772.7,288.0 774.2,289.3 C775.7,290.6 779.7,287.8 781.0,289.3 C782.3,290.8 784.1,296.6 782.2,298.5 C780.3,300.4 771.0,300.9 769.6,300.8 C768.2,300.7 771.7,297.6 774.0,298.0 C776.3,298.4 779.8,299.8 783.3,303.1 C786.8,306.4 791.0,315.3 794.8,318.0 C798.6,320.7 800.6,318.9 806.3,319.1 C812.0,319.3 823.5,317.2 829.2,319.1 C834.9,321.0 836.0,325.6 840.6,330.6 C845.2,335.6 850.1,342.9 856.7,348.9 C863.3,354.9 873.3,363.3 880.0,366.5 C886.7,369.7 888.9,365.2 896.7,368.3 C904.5,371.4 918.9,381.7 926.7,385.0 C934.5,388.3 937.2,386.4 943.3,388.3 C949.4,390.2 959.7,393.6 963.3,396.7 C966.9,399.8 961.4,405.9 965.0,406.7 C968.6,407.5 982.8,400.3 985.0,401.7 C987.2,403.1 977.5,411.9 978.3,415.0 C979.1,418.1 986.4,420.0 990.0,420.0 C993.6,420.0 995.5,414.4 1000.0,415.0 C1004.5,415.6 1011.2,423.0 1016.7,423.3 C1022.2,423.6 1027.2,416.4 1033.3,416.7 C1039.4,417.0 1047.7,424.2 1053.3,425.0 C1058.9,425.8 1061.7,424.5 1066.7,421.7 C1071.7,418.9 1078.9,409.4 1083.3,408.3 C1087.7,407.2 1089.4,413.1 1093.3,415.0 C1097.2,416.9 1101.7,419.2 1106.7,420.0 C1111.7,420.8 1121.1,421.4 1123.3,420.0 C1125.5,418.6 1121.4,414.2 1120.0,411.7 C1118.6,409.2 1114.5,405.6 1115.0,405.0 C1115.5,404.4 1120.8,406.1 1123.3,408.3 C1125.8,410.5 1128.5,415.8 1130.0,418.3 C1131.5,420.8 1132.2,422.5 1132.6,423.3"/><path d="M34.8,225.7 C36.1,225.1 37.5,222.5 42.8,222.0 C48.1,221.5 58.1,223.3 66.7,222.9 C75.3,222.5 85.0,220.5 94.2,219.3 C103.4,218.1 114.1,217.0 121.7,215.6 C129.3,214.2 135.1,211.6 140.0,211.0 C144.9,210.4 146.4,209.9 151.0,211.9 C155.6,213.9 161.5,221.2 167.6,222.9 C173.7,224.6 182.6,221.1 187.8,222.0 C193.0,222.9 194.5,226.3 198.8,228.4 C203.1,230.5 208.6,232.7 213.5,234.8 C218.4,237.0 223.6,241.1 228.2,241.3 C232.8,241.5 237.4,236.9 241.0,235.8 C244.6,234.7 246.3,236.7 250.0,234.8 C253.7,232.9 257.2,225.4 263.3,224.3 C269.4,223.2 279.5,228.5 286.7,228.3 C293.9,228.1 299.5,224.5 306.7,223.3 C313.9,222.1 322.8,221.0 330.0,221.0 C337.2,221.0 342.8,223.8 350.0,223.3 C357.2,222.9 365.5,218.6 373.3,218.3 C381.1,218.0 389.8,220.9 396.7,221.7 C403.6,222.5 410.1,221.7 415.0,223.0 C419.9,224.3 422.3,227.9 426.0,229.4 C429.7,230.9 432.1,230.1 437.0,232.1 C441.9,234.1 449.9,239.3 455.4,241.3 C460.9,243.3 463.0,243.2 470.0,244.0 C477.0,244.8 489.6,246.1 497.6,245.9 C505.6,245.8 510.8,243.9 517.8,243.1 C524.8,242.3 533.7,240.7 539.8,241.3 C545.9,241.9 548.3,244.7 554.4,246.8 C560.5,248.9 570.7,252.7 576.5,254.1 C582.3,255.5 585.4,253.9 589.3,255.0 C593.2,256.1 596.9,257.9 600.0,260.6 C603.1,263.3 605.3,267.7 608.0,271.0 C610.7,274.3 613.5,278.1 616.0,280.2 C618.5,282.3 621.8,279.8 622.9,283.6 C624.0,287.4 619.8,298.7 622.9,303.1 C626.0,307.5 637.3,306.2 641.3,310.0 C645.3,313.8 645.8,322.7 647.0,326.0 C648.2,329.3 648.1,326.9 648.3,330.0 C648.5,333.1 646.8,340.5 648.3,344.3 C649.8,348.1 654.4,349.8 657.4,352.6 C660.4,355.4 663.5,358.1 666.5,360.9 C669.5,363.7 672.2,367.1 675.5,369.3 C678.8,371.5 681.9,372.3 686.1,373.8 C690.3,375.3 695.7,377.7 700.8,378.5 C705.9,379.3 712.3,377.1 716.9,378.7 C721.5,380.2 725.0,384.0 728.3,387.8 C731.6,391.6 732.5,399.9 736.7,401.7 C740.9,403.4 746.1,396.6 753.3,398.3 C760.5,400.0 772.2,410.6 780.0,412.0 C787.8,413.4 794.5,405.1 800.0,406.7 C805.5,408.3 807.8,417.8 813.3,421.7 C818.8,425.6 828.3,425.0 833.3,430.0 C838.3,435.0 838.8,446.6 843.3,451.7 C847.8,456.8 854.9,458.1 860.0,460.3 C865.1,462.5 870.8,461.6 873.8,464.9 C876.8,468.1 876.2,476.0 878.3,479.8 C880.4,483.6 882.6,488.2 886.4,487.8 C890.2,487.4 896.1,476.9 901.3,477.5 C906.4,478.1 912.7,487.9 917.3,491.2 C921.9,494.4 925.0,495.9 928.8,497.0 C932.6,498.1 936.4,497.0 940.2,498.1 C944.0,499.2 947.5,503.2 951.7,503.8 C955.9,504.4 959.7,500.8 965.4,501.6 C971.1,502.4 980.6,507.8 986.0,508.4 C991.4,509.0 993.3,505.0 997.5,505.0 C1001.7,505.0 1007.5,506.1 1011.3,508.4 C1015.1,510.7 1016.6,517.4 1020.4,518.7 C1024.2,520.0 1030.4,517.0 1034.2,516.4 C1038.0,515.8 1039.9,516.4 1043.3,515.3 C1046.7,514.1 1051.0,510.5 1054.8,509.5 C1058.6,508.5 1062.1,508.4 1066.3,509.5 C1070.5,510.6 1075.8,514.1 1080.0,516.4 C1084.2,518.7 1088.8,523.7 1091.5,523.3 C1094.2,522.9 1093.7,515.9 1096.0,514.0 C1098.3,512.1 1101.4,510.6 1105.2,511.8 C1109.0,513.0 1114.8,519.1 1119.0,521.0 C1123.2,522.9 1128.1,522.9 1130.4,523.3 C1132.7,523.7 1132.2,523.5 1132.6,523.5"/><path d="M34.8,339.8 C36.4,339.5 39.4,337.1 44.7,338.0 C50.0,338.9 56.9,344.2 66.7,345.3 C76.5,346.4 92.6,344.1 103.3,344.4 C114.0,344.7 123.2,347.2 130.8,347.2 C138.5,347.2 143.1,346.2 149.2,344.4 C155.3,342.6 165.1,341.7 167.5,336.2 C169.9,330.7 163.2,316.6 163.8,311.4 C164.4,306.2 167.5,305.9 171.2,305.0 C174.9,304.1 181.5,304.1 185.8,305.9 C190.1,307.7 195.0,313.7 196.8,316.0 C198.6,318.3 195.0,318.8 196.8,319.7 C198.6,320.6 204.1,321.8 207.8,321.5 C211.5,321.2 214.8,318.6 218.8,317.8 C222.8,317.0 226.5,316.6 231.7,316.9 C236.9,317.2 244.7,319.5 250.0,319.7 C255.3,319.9 257.8,317.4 263.3,318.3 C268.9,319.2 275.0,323.1 283.3,325.0 C291.6,326.9 303.9,330.8 313.3,330.0 C322.8,329.2 330.0,323.3 340.0,320.0 C350.0,316.7 363.9,311.7 373.3,310.0 C382.8,308.3 389.8,308.8 396.7,310.0 C403.6,311.2 408.3,316.5 415.0,317.4 C421.7,318.3 432.1,316.2 437.0,315.6 C441.9,315.0 440.1,313.8 444.4,313.8 C448.7,313.8 457.8,315.3 462.7,315.6 C467.6,315.9 470.6,314.7 473.7,315.6 C476.8,316.5 477.6,319.1 481.0,321.1 C484.4,323.1 489.6,325.1 493.9,327.5 C498.2,329.9 502.7,332.6 506.7,335.8 C510.7,339.0 515.6,344.6 517.8,346.8 C520.0,349.0 518.1,347.9 520.0,348.9 C521.9,349.9 526.0,351.8 529.0,352.7 C532.0,353.6 535.1,352.3 538.1,354.2 C541.1,356.1 544.7,362.0 547.2,364.0 C549.7,366.0 551.7,365.1 553.2,366.3 C554.7,367.6 555.1,370.1 556.2,371.5 C557.3,372.9 559.7,373.1 560.0,374.5 C560.3,375.9 558.2,376.9 557.8,379.8 C557.4,382.7 556.8,389.1 557.8,391.9 C558.8,394.7 561.3,394.6 563.8,396.4 C566.3,398.2 569.4,400.5 572.9,402.5 C576.4,404.5 581.2,407.2 585.0,408.5 C588.8,409.8 592.0,408.5 595.5,410.0 C599.0,411.5 602.6,415.1 606.1,417.6 C609.6,420.1 613.3,422.2 616.6,425.2 C619.9,428.2 622.7,432.5 625.7,435.8 C628.7,439.1 631.8,442.3 634.8,444.8 C637.8,447.3 642.7,448.4 643.8,450.8 C644.9,453.2 640.8,457.8 641.5,459.1 C642.2,460.4 645.4,458.4 648.3,458.4 C651.2,458.4 656.7,458.7 659.0,459.1 C661.3,459.5 661.0,458.2 662.0,461.0 C663.0,463.8 663.8,473.1 665.0,476.0 C666.2,478.9 668.2,478.4 669.5,478.3 C670.8,478.2 670.8,476.3 672.5,475.3 C674.2,474.3 676.8,473.8 680.0,472.3 C683.2,470.8 688.8,466.4 692.0,466.3 C695.2,466.2 696.5,470.4 699.5,471.5 C702.5,472.6 707.0,472.0 710.0,473.0 C713.0,474.0 714.5,475.8 717.5,477.5 C720.5,479.2 724.2,480.9 728.0,483.5 C731.8,486.1 736.4,490.3 740.0,493.3 C743.6,496.3 748.0,498.6 749.8,501.5 C751.5,504.4 749.6,508.0 750.5,510.5 C751.4,513.0 753.0,514.8 755.0,516.5 C757.0,518.2 760.0,520.4 762.5,521.0 C765.0,521.6 768.6,521.3 770.0,520.3 C771.4,519.3 770.0,515.6 770.8,515.0 C771.5,514.4 773.4,516.0 774.5,516.5 C775.6,517.0 776.2,518.5 777.5,518.0 C778.8,517.5 779.5,513.5 782.0,513.5 C784.5,513.5 788.2,516.5 792.5,518.0 C796.8,519.5 801.8,520.7 807.5,522.5 C813.2,524.3 821.4,527.1 826.7,529.0 C832.0,530.9 837.8,532.6 839.4,534.0 C841.0,535.4 839.9,536.7 836.6,537.5 C833.3,538.3 823.9,537.7 819.6,539.0 C815.4,540.3 812.3,543.5 811.1,545.3 C809.9,547.1 810.4,548.6 812.5,549.6 C814.6,550.6 819.8,550.2 823.8,551.0 C827.8,551.8 833.3,553.4 836.6,554.5 C839.9,555.6 843.2,556.1 843.7,557.4 C844.2,558.7 839.4,560.8 839.4,562.3 C839.4,563.8 841.6,565.6 843.7,566.6 C845.8,567.6 849.9,567.2 852.2,568.0 C854.6,568.8 855.0,570.5 857.8,571.5 C860.6,572.5 866.4,574.1 869.2,573.7 C872.0,573.4 872.7,570.2 874.8,569.4 C876.9,568.6 879.8,567.8 881.9,568.7 C884.0,569.7 885.0,574.0 887.6,575.1 C890.2,576.2 894.9,575.8 897.5,575.1 C900.1,574.4 901.7,570.8 903.1,570.8 C904.5,570.8 904.1,573.9 906.0,575.1 C907.9,576.3 912.6,576.7 914.5,577.9 C916.4,579.1 917.3,580.1 917.3,582.2 C917.3,584.3 914.0,587.9 914.5,590.7 C915.0,593.5 917.0,597.9 920.1,599.2 C923.2,600.5 928.3,600.1 933.3,598.3 C938.3,596.5 945.5,591.1 950.0,588.3 C954.5,585.5 957.2,582.3 960.0,581.6 C962.8,580.9 964.6,582.6 966.9,584.2 C969.2,585.8 970.6,589.1 973.8,591.1 C977.0,593.1 982.4,597.1 985.9,596.2 C989.4,595.3 991.6,588.5 994.5,585.9 C997.4,583.3 1000.8,581.6 1003.1,580.7 C1005.4,579.8 1008.0,579.4 1008.3,580.7 C1008.6,582.0 1004.3,585.9 1004.9,588.5 C1005.5,591.1 1010.6,593.8 1011.8,596.2 C1012.9,598.6 1013.5,600.5 1011.8,603.1 C1010.1,605.7 1003.4,609.2 1001.4,611.8 C999.4,614.4 998.8,616.1 999.7,618.7 C1000.6,621.3 1003.7,625.4 1006.6,627.3 C1009.5,629.2 1013.5,630.5 1017.0,629.9 C1020.5,629.3 1023.0,625.2 1027.3,623.9 C1031.6,622.6 1040.1,621.5 1042.8,622.1 C1045.5,622.7 1045.1,625.0 1043.7,627.3 C1042.3,629.6 1035.2,633.6 1034.2,635.9 C1033.2,638.2 1034.0,640.0 1037.7,641.1 C1041.5,642.2 1052.4,640.5 1056.7,642.8 C1061.0,645.1 1063.3,652.0 1063.6,654.9 C1063.9,657.8 1059.6,658.4 1058.4,660.1 C1057.2,661.8 1055.3,664.1 1056.7,665.3 C1058.1,666.4 1063.0,667.3 1067.0,667.0 C1071.0,666.7 1076.2,665.0 1080.8,663.6 C1085.4,662.2 1092.0,660.1 1094.6,658.4 C1097.2,656.7 1094.3,654.7 1096.3,653.2 C1098.3,651.8 1100.7,650.0 1106.7,649.7 C1112.8,649.4 1128.3,651.2 1132.6,651.5"/><path d="M34.8,451.0 C37.3,449.7 43.6,446.8 50.0,443.3 C56.4,439.8 65.5,433.3 73.3,430.0 C81.1,426.7 87.2,425.4 96.7,423.3 C106.2,421.2 121.7,418.9 130.0,417.7 C138.3,416.5 140.0,416.0 146.7,416.0 C153.4,416.0 161.7,416.5 170.0,417.7 C178.3,418.9 187.8,420.7 196.7,423.3 C205.6,425.9 217.8,430.5 223.3,433.3 C228.9,436.1 227.8,438.2 230.0,440.0 C232.2,441.8 233.4,443.8 236.7,444.3 C240.0,444.9 244.4,445.1 250.0,443.3 C255.6,441.5 262.8,436.4 270.0,433.3 C277.2,430.2 288.3,426.5 293.3,425.0 C298.3,423.5 297.4,424.7 300.0,424.5 C302.6,424.3 305.8,424.8 309.0,423.8 C312.2,422.8 317.0,420.0 319.5,418.5 C322.0,417.0 321.0,415.8 324.0,414.8 C327.0,413.8 333.5,412.5 337.5,412.5 C341.5,412.5 345.0,414.1 348.0,414.8 C351.0,415.4 353.5,415.4 355.5,416.2 C357.5,417.1 360.0,418.1 360.0,420.0 C360.0,421.9 357.0,424.8 355.5,427.5 C354.0,430.2 351.0,434.0 351.0,436.5 C351.0,439.0 353.0,441.8 355.5,442.5 C358.0,443.2 362.8,441.4 366.0,441.0 C369.2,440.6 372.5,440.8 375.0,440.2 C377.5,439.8 379.2,440.4 381.0,438.0 C382.8,435.6 383.8,427.8 385.5,426.0 C387.2,424.2 390.2,426.2 391.5,427.5 C392.8,428.8 392.5,431.2 393.0,433.5 C393.5,435.8 393.0,438.8 394.5,441.0 C396.0,443.2 401.0,445.0 402.0,447.0 C403.0,449.0 399.8,450.8 400.5,453.0 C401.2,455.2 404.2,459.4 406.5,460.5 C408.8,461.6 411.8,459.0 414.0,459.8 C416.2,460.5 417.0,462.6 420.0,465.0 C423.0,467.4 428.7,472.1 432.0,474.0 C435.3,475.9 434.6,475.6 440.0,476.4 C445.4,477.2 456.5,479.2 464.3,478.8 C472.1,478.4 482.4,477.0 487.0,474.0 C491.6,471.0 489.9,464.8 491.8,461.0 C493.7,457.2 495.6,452.6 498.3,451.3 C501.0,450.0 505.9,451.9 508.0,453.0 C510.1,454.1 510.1,457.7 511.2,457.8 C512.3,457.9 512.0,455.3 514.4,453.8 C516.8,452.3 522.8,449.2 525.8,448.9 C528.8,448.6 529.8,449.3 532.2,452.1 C534.6,454.9 537.9,461.7 540.3,465.9 C542.7,470.1 543.0,475.8 546.8,477.2 C550.6,478.6 558.7,473.2 563.0,474.0 C567.3,474.8 570.8,482.4 572.7,482.1 C574.6,481.8 574.3,474.6 574.3,472.4 C574.3,470.2 572.2,470.5 572.7,469.1 C573.2,467.8 573.8,465.0 577.5,464.3 C581.2,463.6 590.5,463.4 595.0,465.2 C599.5,467.0 602.5,471.1 604.7,475.0 C607.0,478.9 606.9,484.9 608.5,488.5 C610.1,492.1 613.1,493.1 614.4,496.3 C615.7,499.6 614.7,506.4 616.3,508.0 C617.9,509.6 622.1,505.4 624.1,506.0 C626.1,506.6 627.7,509.5 628.0,511.8 C628.3,514.1 624.4,517.3 626.0,519.6 C627.6,521.9 635.1,523.1 637.7,525.4 C640.3,527.7 640.8,530.3 641.6,533.2 C642.4,536.1 642.5,538.4 642.5,542.9 C642.5,547.4 639.8,556.8 641.6,560.4 C643.4,564.0 649.3,563.0 653.2,564.3 C657.1,565.6 662.3,566.6 664.9,568.2 C667.5,569.8 666.5,574.0 668.7,574.0 C671.0,574.0 673.9,567.9 678.4,568.2 C682.9,568.5 691.4,574.0 695.9,575.9 C700.4,577.8 702.4,578.5 705.6,579.8 C708.8,581.1 709.6,582.1 715.3,583.7 C721.0,585.3 730.9,587.1 740.0,589.5 C749.1,591.9 761.1,595.2 770.0,598.3 C778.9,601.4 785.0,604.4 793.3,608.3 C801.6,612.2 812.2,618.1 820.0,621.7 C827.8,625.3 834.5,625.6 840.0,630.0 C845.5,634.4 846.1,643.8 853.3,648.3 C860.5,652.8 875.5,655.6 883.3,656.7 C891.1,657.8 894.4,652.8 900.0,655.0 C905.6,657.2 912.2,665.5 916.7,670.0 C921.2,674.5 925.0,677.8 926.7,681.7 C928.4,685.6 923.9,689.4 926.7,693.3 C929.5,697.2 935.5,701.4 943.3,705.0 C951.1,708.6 963.8,711.8 973.3,715.0 C982.8,718.2 993.0,721.9 1000.0,724.3 C1007.0,726.6 1009.7,727.6 1015.5,729.1 C1021.3,730.6 1027.9,732.4 1035.0,733.0 C1042.1,733.6 1051.8,734.0 1058.3,733.0 C1064.8,732.0 1069.6,728.5 1073.8,727.2 C1078.0,725.9 1078.7,722.9 1083.5,725.2 C1088.3,727.5 1098.7,736.6 1102.9,740.8 C1107.1,745.0 1105.8,747.0 1108.7,750.5 C1111.6,754.0 1116.4,759.0 1120.4,762.1 C1124.4,765.2 1130.6,767.9 1132.6,769.0"/><path d="M34.8,570.0 C36.2,570.8 40.2,574.7 43.3,575.0 C46.4,575.3 50.5,574.5 53.3,571.7 C56.1,568.9 57.8,562.2 60.0,558.3 C62.2,554.4 62.8,551.1 66.7,548.3 C70.6,545.5 78.3,542.5 83.3,541.7 C88.3,540.9 92.2,544.7 96.7,543.3 C101.2,541.9 105.6,534.7 110.0,533.3 C114.4,531.9 118.8,533.6 123.3,535.0 C127.8,536.4 132.2,538.9 136.7,541.7 C141.1,544.5 146.7,548.1 150.0,551.7 C153.3,555.3 153.4,560.5 156.7,563.3 C160.0,566.1 165.0,566.6 170.0,568.3 C175.0,570.0 179.5,573.0 186.7,573.3 C193.9,573.6 203.3,570.8 213.3,570.0 C223.3,569.2 239.8,569.0 246.7,568.3 C253.6,567.6 252.2,567.7 255.0,566.0 C257.8,564.3 260.8,560.5 263.3,558.0 C265.8,555.5 268.6,552.8 270.0,551.0 C271.4,549.2 272.5,548.5 272.0,547.0 C271.5,545.5 267.7,543.2 267.0,542.0 C266.3,540.8 266.5,540.0 268.0,539.5 C269.5,539.0 272.5,538.0 276.0,539.0 C279.5,540.0 285.2,545.0 289.0,545.5 C292.8,546.0 295.7,541.2 299.0,542.0 C302.3,542.8 306.7,549.6 309.0,550.5 C311.3,551.4 310.7,547.6 313.0,547.5 C315.3,547.4 319.7,550.1 323.0,550.0 C326.3,549.9 330.7,546.9 333.0,547.0 C335.3,547.1 335.7,550.8 337.0,550.5 C338.3,550.2 339.7,544.4 341.0,545.0 C342.3,545.6 342.3,552.8 345.0,554.0 C347.7,555.2 354.8,553.2 357.0,552.0 C359.2,550.8 356.7,549.3 358.0,547.0 C359.3,544.7 362.2,540.0 365.0,538.0 C367.8,536.0 371.9,535.2 375.0,535.0 C378.1,534.8 378.0,534.2 383.3,536.7 C388.6,539.2 400.6,546.7 406.7,550.0 C412.8,553.3 414.4,553.5 420.0,556.7 C425.6,559.9 434.0,566.2 440.0,569.4 C446.0,572.6 451.2,573.3 456.2,575.9 C461.2,578.5 463.2,580.7 470.0,585.0 C476.8,589.3 488.4,600.0 496.7,601.7 C505.0,603.4 511.7,598.3 520.0,595.0 C528.3,591.7 539.5,584.5 546.7,581.7 C553.9,578.9 559.1,577.8 563.3,578.3 C567.5,578.8 568.4,581.9 571.7,584.7 C575.0,587.5 578.6,591.9 583.3,595.0 C588.0,598.1 594.2,601.1 600.0,603.1 C605.8,605.1 612.3,606.4 618.3,607.0 C624.2,607.6 630.2,606.4 635.7,607.0 C641.2,607.6 646.8,608.7 651.3,610.9 C655.8,613.1 659.2,617.6 662.9,620.0 C666.6,622.4 668.2,621.1 673.3,625.0 C678.4,628.9 686.6,639.1 693.3,643.3 C700.0,647.5 708.8,649.4 713.3,650.0 C717.8,650.6 715.5,645.9 720.0,646.7 C724.5,647.5 734.5,651.4 740.0,655.0 C745.5,658.6 747.8,663.8 753.3,668.3 C758.8,672.8 766.6,677.2 773.3,681.7 C780.0,686.2 787.7,691.4 793.3,695.0 C798.9,698.6 802.2,701.1 806.7,703.3 C811.2,705.5 813.9,705.2 820.0,708.3 C826.1,711.4 838.3,718.4 843.3,721.7 C848.3,725.0 847.8,725.0 850.0,728.3 C852.2,731.6 854.5,736.7 856.7,741.7 C858.9,746.7 858.9,752.2 863.3,758.3 C867.7,764.4 877.7,773.8 883.3,778.3 C888.9,782.8 891.7,785.0 896.7,785.0 C901.7,785.0 908.9,778.8 913.3,778.3 C917.7,777.8 920.0,778.9 923.3,781.7 C926.6,784.5 927.7,792.5 933.3,795.0 C938.9,797.5 948.9,797.8 956.7,796.7 C964.5,795.6 974.5,788.0 980.0,788.3 C985.5,788.6 986.7,795.4 990.0,798.3 C993.3,801.2 997.7,803.7 1000.0,805.8 C1002.3,807.9 1003.9,808.9 1003.9,810.7 C1003.9,812.5 1000.6,814.9 1000.0,816.5 C999.4,818.1 997.4,818.8 1000.0,820.4 C1002.6,822.0 1010.0,824.8 1015.5,826.2 C1021.0,827.7 1028.8,827.5 1033.0,829.1 C1037.2,830.7 1036.6,834.8 1040.8,835.9 C1045.0,837.0 1054.4,837.5 1058.3,835.9 C1062.2,834.3 1062.2,828.5 1064.0,826.2 C1065.8,823.9 1067.3,821.3 1068.9,822.3 C1070.5,823.3 1072.7,829.4 1073.8,832.0 C1074.9,834.6 1073.8,835.9 1075.7,837.9 C1077.6,839.9 1082.2,842.6 1085.4,843.7 C1088.6,844.8 1092.7,843.1 1095.1,844.7 C1097.5,846.3 1098.2,853.6 1100.0,853.4 C1101.8,853.2 1103.0,846.3 1105.8,843.7 C1108.5,841.1 1113.4,838.7 1116.5,837.9 C1119.6,837.1 1121.6,836.5 1124.3,838.8 C1127.0,841.1 1131.2,849.4 1132.6,851.5"/><path d="M34.8,691.0 C36.5,690.8 43.0,688.5 45.0,690.0 C47.0,691.5 43.7,700.8 46.7,700.0 C49.8,699.2 56.1,689.2 63.3,685.0 C70.5,680.8 77.8,678.5 90.0,675.0 C102.2,671.5 123.4,666.0 136.7,664.3 C150.0,662.6 161.1,666.3 170.0,665.0 C178.9,663.7 182.2,660.0 190.0,656.7 C197.8,653.4 204.5,647.2 216.7,645.0 C228.9,642.8 252.2,644.0 263.3,643.3 C274.4,642.6 277.7,639.9 283.3,641.0 C288.9,642.1 291.7,649.3 296.7,650.0 C301.7,650.7 309.4,645.0 313.3,645.0 C317.2,645.0 314.4,650.5 320.0,650.0 C325.6,649.5 339.5,643.7 346.7,641.7 C353.9,639.8 357.2,636.9 363.3,638.3 C369.4,639.7 377.7,648.3 383.3,650.0 C388.9,651.7 391.1,647.2 396.7,648.3 C402.3,649.4 410.6,655.0 416.7,656.7 C422.8,658.4 428.3,656.6 433.3,658.3 C438.3,660.0 440.6,667.5 446.7,666.7 C452.8,665.9 460.6,655.0 470.0,653.3 C479.4,651.6 493.9,655.6 503.3,656.7 C512.8,657.8 516.7,661.4 526.7,660.0 C536.7,658.6 555.5,648.0 563.3,648.3 C571.1,648.6 568.3,659.2 573.3,661.7 C578.3,664.2 588.6,660.8 593.3,663.3 C598.0,665.8 598.6,673.9 601.7,676.7 C604.8,679.5 610.3,677.0 611.7,680.0 C613.1,683.0 608.6,691.4 610.0,695.0 C611.4,698.6 613.9,701.4 620.0,701.7 C626.1,702.0 640.0,698.4 646.7,696.7 C653.4,695.0 657.8,690.9 660.0,691.7 C662.2,692.5 658.3,697.3 660.0,701.7 C661.7,706.1 666.1,713.6 670.0,718.3 C673.9,723.0 678.8,728.3 683.3,730.0 C687.8,731.7 693.9,729.7 696.7,728.3 C699.5,726.9 697.2,721.7 700.0,721.7 C702.8,721.7 707.8,723.9 713.3,728.3 C718.8,732.7 728.8,743.3 733.3,748.3 C737.8,753.3 735.5,756.1 740.0,758.3 C744.5,760.5 753.3,759.5 760.0,761.7 C766.7,763.9 774.5,768.4 780.0,771.7 C785.5,775.0 788.8,777.8 793.3,781.7 C797.8,785.6 803.4,790.0 806.7,795.0 C810.0,800.0 811.4,806.2 813.3,811.7 C815.2,817.2 815.8,820.8 818.0,828.0 C820.2,835.2 826.4,848.3 826.7,855.0 C827.0,861.7 819.5,863.8 820.0,868.3 C820.5,872.8 825.0,878.9 830.0,881.7 C835.0,884.5 843.9,885.8 850.0,885.0 C856.1,884.2 861.7,878.0 866.7,877.0 C871.7,876.0 875.6,879.0 880.0,879.0 C884.4,879.0 888.7,878.1 893.0,876.8 C897.3,875.5 902.4,872.5 906.0,871.4 C909.6,870.3 911.1,869.6 914.7,870.3 C918.3,871.0 923.5,870.6 927.7,875.7 C931.9,880.9 938.0,897.0 940.0,901.2"/><path d="M34.8,786.7 C35.7,784.2 38.0,774.2 40.0,771.7 C42.0,769.2 45.0,769.2 46.7,771.7 C48.4,774.2 47.2,787.8 50.0,786.7 C52.8,785.6 58.3,769.2 63.3,765.0 C68.3,760.8 76.7,761.4 80.0,761.7 C83.3,762.0 80.5,765.9 83.3,766.7 C86.1,767.5 93.9,768.1 96.7,766.7 C99.5,765.3 96.7,760.2 100.0,758.3 C103.3,756.3 110.0,755.0 116.7,755.0 C123.4,755.0 133.3,759.4 140.0,758.3 C146.7,757.2 151.1,751.6 156.7,748.3 C162.2,745.0 166.6,743.8 173.3,738.3 C180.0,732.8 187.2,719.0 196.7,715.0 C206.1,711.0 218.9,713.2 230.0,714.3 C241.1,715.4 252.2,719.1 263.3,721.7 C274.4,724.3 285.6,729.5 296.7,730.0 C307.8,730.5 318.9,726.4 330.0,725.0 C341.1,723.6 355.8,723.2 363.3,721.7 C370.8,720.2 371.1,717.5 375.0,716.0 C378.9,714.5 384.5,712.0 386.7,713.0 C388.9,714.0 387.4,720.0 388.0,722.0 C388.6,724.0 388.0,721.2 390.0,725.0 C392.0,728.8 391.7,740.8 400.0,745.0 C408.3,749.2 428.3,749.7 440.0,750.0 C451.7,750.3 464.4,746.4 470.0,746.7 C475.6,747.0 470.5,750.9 473.3,751.7 C476.1,752.5 480.0,751.2 486.7,751.7 C493.4,752.2 506.1,754.2 513.3,755.0 C520.5,755.8 521.7,757.5 530.0,756.7 C538.3,755.9 555.5,750.3 563.3,750.0 C571.1,749.7 573.9,753.0 576.7,755.0 C579.5,757.0 576.7,757.8 580.0,761.7 C583.3,765.6 591.2,773.9 596.7,778.3 C602.2,782.7 608.3,783.3 613.3,788.3 C618.3,793.3 620.6,802.7 626.7,808.3 C632.8,813.9 643.9,816.4 650.0,821.7 C656.1,827.0 659.7,837.5 663.3,840.0 C666.9,842.5 669.5,840.9 671.7,836.7 C673.9,832.5 674.2,818.9 676.7,815.0 C679.2,811.1 683.4,811.1 686.7,813.3 C690.0,815.5 692.8,822.5 696.7,828.3 C700.6,834.1 705.0,842.7 710.0,848.3 C715.0,853.9 722.8,856.1 726.7,861.7 C730.6,867.3 730.5,875.1 733.3,881.7 C736.1,888.3 741.6,898.0 743.3,901.2"/><path d="M73.3,901.2 C74.4,899.3 78.5,894.4 80.0,890.0 C81.5,885.6 81.6,879.5 82.0,875.0 C82.4,870.5 81.7,867.2 82.5,863.0 C83.3,858.8 84.9,853.5 86.7,850.0 C88.5,846.5 90.8,844.1 93.3,841.7 C95.8,839.3 98.8,836.9 101.7,835.8 C104.6,834.7 108.3,834.9 110.8,835.3 C113.3,835.7 114.6,836.5 116.7,838.3 C118.8,840.0 120.5,845.0 123.3,845.8 C126.1,846.6 130.0,843.4 133.3,843.3 C136.6,843.2 140.0,845.3 143.3,845.0 C146.6,844.7 150.2,841.6 153.3,841.3 C156.4,841.0 158.1,844.1 161.7,843.3 C165.3,842.5 170.8,838.9 175.0,836.7 C179.2,834.5 182.5,832.1 186.7,830.0 C190.9,827.9 195.0,826.7 200.0,824.2 C205.0,821.7 208.9,819.4 216.7,815.0 C224.5,810.6 236.7,800.6 246.7,797.7 C256.7,794.8 267.8,794.9 276.7,797.7 C285.6,800.5 291.1,810.8 300.0,814.3 C308.9,817.8 319.4,817.7 330.0,819.0 C340.6,820.3 353.9,820.3 363.3,822.3 C372.8,824.3 375.6,829.7 386.7,831.0 C397.8,832.3 420.6,827.7 430.0,830.0 C439.4,832.3 436.6,838.0 443.3,845.0 C450.0,852.0 460.0,865.0 470.0,871.7 C480.0,878.4 490.5,882.0 503.3,885.0 C516.1,888.0 537.8,890.5 546.7,890.0 C555.6,889.5 551.2,884.8 556.7,881.7 C562.2,878.7 575.0,871.7 580.0,871.7 C585.0,871.7 584.8,876.8 586.7,881.7 C588.7,886.6 590.9,898.0 591.7,901.2"/><path d="M246.7,901.2 C248.9,900.8 254.4,899.5 260.0,899.0 C265.6,898.5 273.9,898.7 280.0,898.0 C286.1,897.3 291.1,894.7 296.7,895.0 C302.2,895.3 305.0,899.2 313.3,900.0 C321.6,900.8 336.7,902.5 346.7,900.0 C356.7,897.5 366.1,886.1 373.3,885.0 C380.5,883.9 384.4,890.6 390.0,893.3 C395.6,896.0 403.9,899.9 406.7,901.2"/></g>
<g stroke="#aaaaa6" stroke-width="1.6" stroke-dasharray="2.6 7.21"><line x1="92.6" y1="101.9" x2="92.6" y2="901.2" stroke-dashoffset="-5.1"/><line x1="186.9" y1="101.9" x2="186.9" y2="901.2" stroke-dashoffset="-5.1"/><line x1="281.2" y1="101.9" x2="281.2" y2="901.2" stroke-dashoffset="-5.1"/><line x1="375.5" y1="101.9" x2="375.5" y2="901.2" stroke-dashoffset="-5.1"/><line x1="469.8" y1="101.9" x2="469.8" y2="901.2" stroke-dashoffset="-5.1"/><line x1="564.1" y1="101.9" x2="564.1" y2="901.2" stroke-dashoffset="-5.1"/><line x1="658.4" y1="101.9" x2="658.4" y2="901.2" stroke-dashoffset="-5.1"/><line x1="752.7" y1="101.9" x2="752.7" y2="901.2" stroke-dashoffset="-5.1"/><line x1="847.0" y1="101.9" x2="847.0" y2="901.2" stroke-dashoffset="-5.1"/><line x1="941.3" y1="101.9" x2="941.3" y2="901.2" stroke-dashoffset="-5.1"/><line x1="1035.6" y1="101.9" x2="1035.6" y2="901.2" stroke-dashoffset="-5.1"/><line x1="1129.9" y1="101.9" x2="1129.9" y2="901.2" stroke-dashoffset="-5.1"/><line x1="34.8" y1="895.4" x2="1132.6" y2="895.4" stroke-dashoffset="-7.0"/><line x1="34.8" y1="838.8" x2="1132.6" y2="838.8" stroke-dashoffset="-7.0"/><line x1="34.8" y1="782.3" x2="1132.6" y2="782.3" stroke-dashoffset="-7.0"/><line x1="34.8" y1="725.7" x2="1132.6" y2="725.7" stroke-dashoffset="-7.0"/><line x1="34.8" y1="669.2" x2="1132.6" y2="669.2" stroke-dashoffset="-7.0"/><line x1="34.8" y1="612.7" x2="1132.6" y2="612.7" stroke-dashoffset="-7.0"/><line x1="34.8" y1="556.1" x2="1132.6" y2="556.1" stroke-dashoffset="-7.0"/><line x1="34.8" y1="499.6" x2="1132.6" y2="499.6" stroke-dashoffset="-7.0"/><line x1="34.8" y1="443.0" x2="1132.6" y2="443.0" stroke-dashoffset="-7.0"/><line x1="34.8" y1="386.5" x2="1132.6" y2="386.5" stroke-dashoffset="-7.0"/><line x1="34.8" y1="330.0" x2="1132.6" y2="330.0" stroke-dashoffset="-7.0"/><line x1="34.8" y1="273.4" x2="1132.6" y2="273.4" stroke-dashoffset="-7.0"/><line x1="34.8" y1="216.9" x2="1132.6" y2="216.9" stroke-dashoffset="-7.0"/><line x1="34.8" y1="160.3" x2="1132.6" y2="160.3" stroke-dashoffset="-7.0"/><line x1="34.8" y1="103.8" x2="1132.6" y2="103.8" stroke-dashoffset="-7.0"/></g>
<g fill="none" stroke="#000" stroke-width="1.25" stroke-linejoin="round"><polyline points="104.6,102.0 106.5,106.8 107.5,110.7 109.4,108.7 113.3,108.7 119.1,111.7 124.0,114.6 123.5,118.4 125.9,120.4 128.8,127.2 131.7,133.0 133.2,138.8 131.7,142.7 131.7,147.6 134.7,152.4 141.5,152.4 146.3,150.0 152.1,151.9 158.0,150.0 160.9,146.6 165.7,148.5 170.6,142.7 173.5,142.7 171.5,136.9 170.6,133.0 172.5,124.3 175.4,119.4 178.3,115.5 180.8,111.7 181.3,105.8 181.7,102.0"/><polyline points="35.5,274.8 44.7,272.9 48.3,274.8 57.5,271.1 66.7,269.2 75.8,263.8 90.5,262.8 107.0,264.7 114.3,266.5 116.2,270.2 127.2,264.7 131.8,261.9 134.5,272.0 143.7,268.3 151.0,264.7 158.3,267.4 162.0,273.8 173.0,277.5 191.3,280.2 204.2,286.7 206.0,294.0 213.3,301.3 222.5,308.7 235.3,308.7 240.0,307.2 259.2,313.0 274.5,323.5 282.2,326.4 288.0,334.1 297.5,339.8 307.1,345.6 322.4,353.2 332.0,362.8 335.8,366.7 341.6,368.6 351.2,372.4 362.7,374.3 370.3,380.1 383.8,380.1 393.3,383.9 393.3,391.6 387.6,395.4 389.5,403.1 399.1,401.2 408.7,405.0 422.1,405.0 435.5,410.8 443.2,418.4 450.8,424.2 462.3,428.0 460.4,437.6 431.7,441.4 420.2,445.3 412.5,449.1 402.9,449.1 374.2,443.3 345.4,445.3 316.7,449.1 295.6,452.9 293.7,447.2 305.2,435.7 320.5,422.3 322.4,414.6 316.7,405.0 307.1,403.1 284.1,403.1 274.5,397.3 261.1,385.8 257.2,374.3 253.4,359.0 247.7,351.3 240.8,350.8 222.5,355.4 204.2,350.0 193.2,345.3 182.2,339.8 171.2,332.5 167.5,323.3 162.0,319.7 165.7,327.0 147.3,327.0 134.5,325.2 133.6,316.0 130.8,315.1 130.0,325.2 121.7,321.5 107.0,319.7 99.7,317.8 86.8,308.7 86.8,305.9 105.2,305.0 109.8,298.6 103.3,292.2 88.7,292.2 66.7,290.3 56.6,291.2 48.3,297.7 41.0,303.2 35.5,310.5"/><polyline points="575.5,459.4 577.5,478.8 579.4,490.5 571.7,500.2 577.5,509.9 569.7,517.7 561.9,519.6 565.8,529.3 575.5,541.0 579.4,556.5 583.3,568.2 591.1,575.9"/><polyline points="173.5,142.7 166.0,152.0 161.8,160.2"/><polyline points="159.0,163.0 152.0,168.0"/><polyline points="149.0,171.0 143.0,173.5"/><polyline points="141.0,175.0 133.7,177.7"/><polyline points="120.1,174.8 124.0,179.6"/><polyline points="115.2,178.6 110.0,181.5 106.0,182.5"/><polyline points="104.0,184.0 101.6,186.4"/><polyline points="415.0,249.5 418.7,256.9 417.8,264.2 426.0,269.7 429.7,278.9"/><polyline points="374.6,235.1 379.4,236.7 384.3,242.4 395.6,248.9"/><polyline points="407.0,236.0 411.8,242.4 415.0,250.0"/><polyline points="35.0,723.0 40.0,726.0 35.0,729.0"/><polyline points="35.0,752.0 37.0,760.0 35.0,770.0"/><polygon points="132.7,141.7 135.6,141.7 140.5,143.7 143.4,146.6 142.9,149.0 140.5,148.5 136.6,145.6 132.7,143.7"/><polygon points="46.5,333.4 57.5,335.2 63.9,343.5 64.8,352.7 55.7,360.0 48.3,361.8 39.2,356.3 37.3,353.6 46.5,354.5 42.8,341.7 41.9,338.0"/><polygon points="271.8,149.4 280.7,151.8 283.2,157.4 288.8,169.6 293.7,179.3 294.5,190.6 288.8,194.7 280.7,198.7 274.3,192.2 266.2,188.2 261.3,182.5 266.2,177.7 267.8,171.2 274.3,161.5 271.8,153.4"/><polygon points="280.7,203.6 288.8,201.9 298.5,203.6 303.4,213.3 304.2,223.0 298.5,229.4 292.1,227.8 288.8,219.7 285.6,210.0"/><polygon points="301.8,159.0 308.0,156.6 315.5,158.5 309.0,161.5"/><polygon points="309.9,102.4 318.0,106.5 318.8,110.5 319.6,102.4"/><polygon points="340.6,129.1 343.0,129.1 343.9,134.0 353.6,140.5 361.7,144.5 369.7,153.4 369.7,164.7 366.5,177.7 360.0,171.2 366.5,168.0 366.5,159.9 363.3,148.5 353.6,142.0 342.2,136.4 339.8,135.6"/><polygon points="389.2,177.7 394.0,180.9 398.9,192.2 408.6,206.8 400.5,210.0 398.1,205.2 400.5,203.6 392.4,187.4 388.3,179.3"/><polygon points="249.6,299.6 263.0,298.6 278.3,311.1 284.1,320.7 299.4,328.3 297.5,333.1 284.0,330.0 272.0,318.0 260.0,308.0"/><polygon points="301.3,335.0 322.4,353.2 318.6,359.0 309.0,347.5"/><polygon points="202.0,284.0 212.0,287.0 219.0,294.0 214.0,293.0"/><polygon points="264.0,541.0 265.0,535.0 271.0,531.0 281.0,530.5 287.0,526.0 302.0,528.5 315.0,531.0 333.0,533.5 339.0,541.0 359.0,547.0 365.0,561.0 355.0,564.0 345.0,562.0 337.0,558.0 333.0,564.0 324.0,562.0 320.0,569.0 321.0,573.0 311.0,565.0 293.0,564.0 289.0,557.0 280.0,547.0 277.0,544.0 268.0,544.5"/><polygon points="120.0,478.0 128.0,476.7 136.7,480.0 130.0,485.0 121.0,484.0"/><polygon points="181.7,459.0 190.0,456.7 198.3,458.0 192.0,461.7"/><polygon points="575.5,459.4 569.4,460.2 556.5,457.0 548.4,456.2 537.0,449.7 525.8,446.5 516.0,448.0 504.7,450.5 498.3,453.0 496.6,461.0 508.0,464.3 524.1,472.4 530.6,475.6 527.4,482.1 529.8,490.2 525.8,495.0 530.6,503.1 538.7,511.2 546.8,517.7 545.2,525.8 530.6,531.4 509.6,529.8 495.0,527.4 482.1,524.1 469.1,520.1 459.4,518.5 449.7,520.9 447.3,532.2 454.6,538.7 461.0,540.3 470.7,550.0 474.0,553.3 477.2,551.7 486.9,543.6 499.9,542.0 504.7,542.8 524.1,547.6 537.1,545.2 559.7,542.8 569.4,546.8 575.5,541.0 579.4,556.5 583.3,568.2 591.1,575.9 602.7,554.6 608.5,539.0 622.1,535.1 629.9,533.2 637.7,542.9 650.0,542.0 656.0,534.5 665.0,530.0 677.0,531.5 698.0,530.8 710.0,533.0 716.0,542.0 719.0,546.0 723.5,543.5 725.0,536.0 731.0,533.0 737.0,521.8 728.0,512.0 719.0,502.3 708.5,497.8 702.5,500.0 692.0,497.8 686.0,494.0 676.3,494.0 677.0,488.0 692.0,488.8 696.5,484.3 693.5,479.8 680.0,480.5 671.0,482.8 665.0,476.0 662.0,462.5 659.0,460.3 650.0,464.0 647.4,463.3 641.6,459.4 633.8,455.5 622.1,449.7 610.5,447.8 598.8,451.7 583.3,448.7 575.5,453.6"/><polygon points="717.0,547.0 722.0,546.0 726.0,548.5 720.0,549.5"/><polygon points="503.1,503.1 508.0,501.5 525.8,511.2 525.8,516.0 516.0,514.4 506.3,508.0"/><polygon points="791.2,527.6 798.3,526.9 812.5,528.3 826.7,529.0 839.4,529.7 843.7,530.5 849.3,530.5 857.8,533.3 864.2,534.7 864.9,542.5 857.8,546.7 853.6,553.8 846.5,557.4 836.6,560.2 826.7,556.7 812.5,557.4 802.6,559.5 791.2,558.8 791.2,549.6 791.2,541.1 787.7,536.8 791.2,532.6"/><polygon points="867.0,551.7 875.0,547.5 880.5,548.5 872.0,551.7"/><polygon points="877.6,537.0 882.6,540.4 880.0,540.0"/><polygon points="892.5,534.7 901.7,538.2 898.0,537.5"/><polygon points="905.0,536.0 910.0,531.0 914.5,530.5 908.0,538.2"/><polygon points="920.8,527.0 925.8,527.5 922.0,530.5"/><polygon points="899.0,570.0 905.0,568.7 914.5,570.0 906.0,573.0"/><polygon points="444.4,219.0 447.0,210.0 449.9,209.5 448.0,218.5"/><polygon points="425.0,234.0 430.0,233.0 433.3,235.0 428.0,236.7"/><polygon points="453.5,282.6 466.4,289.0 466.4,291.7 457.2,290.8 454.4,297.2"/><polygon points="470.0,289.9 476.5,289.0 477.4,300.9 470.0,308.3 460.9,315.6 457.2,320.2 468.0,306.0 474.0,298.0"/><polygon points="509.5,304.6 517.8,306.4 525.1,309.2 528.8,312.8 519.6,310.1 509.5,309.2"/><polygon points="549.0,338.0 552.0,338.5 556.3,342.0 551.0,343.1"/><polygon points="562.7,332.5 567.0,332.0 569.1,337.6 564.0,337.0"/><polygon points="571.0,338.5 579.0,339.0 581.0,343.0 573.0,342.0"/><polygon points="514.0,358.0 518.0,355.0 520.5,359.0 516.0,361.5"/><polygon points="553.3,901.2 556.7,881.7 566.7,878.3 580.0,870.0 593.3,871.7 603.3,885.0 605.0,895.0 596.7,901.2"/><polygon points="643.3,901.2 650.0,888.3 660.0,885.0 666.7,895.0 668.3,901.2"/><polygon points="655.0,862.0 660.0,864.0 663.3,871.7 658.0,870.0"/><polygon points="697.0,874.0 703.0,876.0 716.0,888.0 714.0,892.0 705.0,886.0"/><polygon points="733.0,879.0 740.0,882.0 743.0,892.0 738.0,890.0"/><polygon points="1041.0,574.0 1046.0,573.0 1049.0,579.0 1046.0,581.6 1042.0,578.0"/><polygon points="1040.0,606.0 1045.0,603.0 1050.6,608.0 1048.0,613.5 1042.0,611.0"/><polygon points="1023.9,624.0 1027.0,625.0 1029.0,630.8 1025.0,629.0"/><polygon points="994.5,590.0 999.0,591.0 1004.9,598.0 1000.0,597.0"/><polygon points="1005.7,602.0 1010.0,601.4 1011.0,606.0 1007.0,607.5"/><polygon points="1046.0,652.0 1052.0,649.7 1056.7,656.0 1055.0,668.0 1050.0,671.3 1045.0,662.0"/><polygon points="1057.5,641.0 1061.0,640.3 1064.0,650.0 1074.8,655.0 1063.0,656.7 1058.0,654.0"/><polygon points="1067.0,670.0 1071.0,668.7 1074.0,673.0 1070.0,676.5"/><polygon points="1059.0,692.0 1065.0,690.0 1070.0,697.0 1070.5,710.0 1066.0,713.6 1061.0,700.0"/><polygon points="1071.8,733.0 1081.6,736.9 1085.4,740.8 1091.3,758.3 1079.6,755.3 1077.7,751.5 1083.5,747.6 1079.6,742.7 1072.8,738.8"/><polygon points="1084.0,777.7 1088.3,782.0 1087.0,796.0 1083.0,798.0 1078.6,790.0"/><polygon points="1072.0,817.5 1076.7,820.0 1075.0,830.0 1069.0,825.0"/><polygon points="1059.0,867.0 1062.0,866.0 1062.0,870.0 1059.0,870.0"/></g>
</g>
<rect x="1143.8" y="98.2" width="19.8" height="806" fill="#d2d2d2"/><rect x="1145.3" y="100.30" width="17.0" height="44.55" fill="#e6e6e6"/><rect x="1145.3" y="144.85" width="17.0" height="44.55" fill="#ecf2d4"/><rect x="1145.3" y="144.35" width="17.0" height="1" fill="#fff" fill-opacity="0.6"/><rect x="1145.3" y="189.40" width="17.0" height="44.55" fill="#e2f09a"/><rect x="1145.3" y="188.90" width="17.0" height="1" fill="#fff" fill-opacity="0.6"/><rect x="1145.3" y="233.95" width="17.0" height="44.55" fill="#a6c864"/><rect x="1145.3" y="233.45" width="17.0" height="1" fill="#fff" fill-opacity="0.6"/><rect x="1145.3" y="278.50" width="17.0" height="44.55" fill="#e0e614"/><rect x="1145.3" y="278.00" width="17.0" height="1" fill="#fff" fill-opacity="0.6"/><rect x="1145.3" y="323.05" width="17.0" height="44.55" fill="#ffe600"/><rect x="1145.3" y="322.55" width="17.0" height="1" fill="#fff" fill-opacity="0.6"/><rect x="1145.3" y="367.60" width="17.0" height="44.55" fill="#ffe883"/><rect x="1145.3" y="367.10" width="17.0" height="1" fill="#fff" fill-opacity="0.6"/><rect x="1145.3" y="412.15" width="17.0" height="44.55" fill="#f1cd7f"/><rect x="1145.3" y="411.65" width="17.0" height="1" fill="#fff" fill-opacity="0.6"/><rect x="1145.3" y="456.70" width="17.0" height="44.55" fill="#eaa44e"/><rect x="1145.3" y="456.20" width="17.0" height="1" fill="#fff" fill-opacity="0.6"/><rect x="1145.3" y="501.25" width="17.0" height="44.55" fill="#e48c3d"/><rect x="1145.3" y="500.75" width="17.0" height="1" fill="#fff" fill-opacity="0.6"/><rect x="1145.3" y="545.80" width="17.0" height="44.55" fill="#d97a3c"/><rect x="1145.3" y="545.30" width="17.0" height="1" fill="#fff" fill-opacity="0.6"/><rect x="1145.3" y="590.35" width="17.0" height="44.55" fill="#ef083c"/><rect x="1145.3" y="589.85" width="17.0" height="1" fill="#fff" fill-opacity="0.6"/><rect x="1145.3" y="634.90" width="17.0" height="44.55" fill="#e653a0"/><rect x="1145.3" y="634.40" width="17.0" height="1" fill="#fff" fill-opacity="0.6"/><rect x="1145.3" y="679.45" width="17.0" height="44.55" fill="#9a6ea6"/><rect x="1145.3" y="678.95" width="17.0" height="1" fill="#fff" fill-opacity="0.6"/><rect x="1145.3" y="724.00" width="17.0" height="44.55" fill="#6270f4"/><rect x="1145.3" y="723.50" width="17.0" height="1" fill="#fff" fill-opacity="0.6"/><rect x="1145.3" y="768.55" width="17.0" height="44.55" fill="#7b90fb"/><rect x="1145.3" y="768.05" width="17.0" height="1" fill="#fff" fill-opacity="0.6"/><rect x="1145.3" y="813.10" width="17.0" height="44.55" fill="#8fb1ff"/><rect x="1145.3" y="812.60" width="17.0" height="1" fill="#fff" fill-opacity="0.6"/><rect x="1145.3" y="857.65" width="17.0" height="44.55" fill="#bccaff"/><rect x="1145.3" y="857.15" width="17.0" height="1" fill="#fff" fill-opacity="0.6"/>
<g font-family="Liberation Sans, sans-serif" font-size="13.2" fill="#111"><text x="1166" y="150.2">5.831</text><text x="1166" y="194.7">5.819</text><text x="1166" y="239.2">5.807</text><text x="1166" y="283.8">5.795</text><text x="1166" y="328.4">5.783</text><text x="1166" y="372.9">5.772</text><text x="1166" y="417.5">5.76</text><text x="1166" y="462.0">5.748</text><text x="1166" y="506.6">5.736</text><text x="1166" y="551.1">5.724</text><text x="1166" y="595.6">5.712</text><text x="1166" y="640.2">5.7</text><text x="1166" y="684.8">5.688</text><text x="1166" y="729.3">5.676</text><text x="1166" y="773.9">5.664</text><text x="1166" y="818.4">5.652</text><text x="1166" y="862.9">5.64</text></g>
<g font-family="Liberation Sans, sans-serif" font-size="11.6" font-weight="bold" fill="#a4a4a4"><text x="92.6" y="919" text-anchor="middle">82W</text><line x1="92.6" y1="905.2" x2="92.6" y2="908.2" stroke="#a8a8a8" stroke-width="1"/><text x="186.9" y="919" text-anchor="middle">80W</text><line x1="186.9" y1="905.2" x2="186.9" y2="908.2" stroke="#a8a8a8" stroke-width="1"/><text x="281.2" y="919" text-anchor="middle">78W</text><line x1="281.2" y1="905.2" x2="281.2" y2="908.2" stroke="#a8a8a8" stroke-width="1"/><text x="375.5" y="919" text-anchor="middle">76W</text><line x1="375.5" y1="905.2" x2="375.5" y2="908.2" stroke="#a8a8a8" stroke-width="1"/><text x="469.8" y="919" text-anchor="middle">74W</text><line x1="469.8" y1="905.2" x2="469.8" y2="908.2" stroke="#a8a8a8" stroke-width="1"/><text x="564.1" y="919" text-anchor="middle">72W</text><line x1="564.1" y1="905.2" x2="564.1" y2="908.2" stroke="#a8a8a8" stroke-width="1"/><text x="658.4" y="919" text-anchor="middle">70W</text><line x1="658.4" y1="905.2" x2="658.4" y2="908.2" stroke="#a8a8a8" stroke-width="1"/><text x="752.7" y="919" text-anchor="middle">68W</text><line x1="752.7" y1="905.2" x2="752.7" y2="908.2" stroke="#a8a8a8" stroke-width="1"/><text x="847.0" y="919" text-anchor="middle">66W</text><line x1="847.0" y1="905.2" x2="847.0" y2="908.2" stroke="#a8a8a8" stroke-width="1"/><text x="941.3" y="919" text-anchor="middle">64W</text><line x1="941.3" y1="905.2" x2="941.3" y2="908.2" stroke="#a8a8a8" stroke-width="1"/><text x="1035.6" y="919" text-anchor="middle">62W</text><line x1="1035.6" y1="905.2" x2="1035.6" y2="908.2" stroke="#a8a8a8" stroke-width="1"/><text x="1129.9" y="919" text-anchor="middle">60W</text><line x1="1129.9" y1="905.2" x2="1129.9" y2="908.2" stroke="#a8a8a8" stroke-width="1"/><text x="25.3" y="900.4" text-anchor="end">12N</text><line x1="27.999999999999996" y1="895.4" x2="30.599999999999998" y2="895.4" stroke="#a8a8a8" stroke-width="1"/><text x="25.3" y="843.8" text-anchor="end">13N</text><line x1="27.999999999999996" y1="838.8" x2="30.599999999999998" y2="838.8" stroke="#a8a8a8" stroke-width="1"/><text x="25.3" y="787.3" text-anchor="end">14N</text><line x1="27.999999999999996" y1="782.3" x2="30.599999999999998" y2="782.3" stroke="#a8a8a8" stroke-width="1"/><text x="25.3" y="730.7" text-anchor="end">15N</text><line x1="27.999999999999996" y1="725.7" x2="30.599999999999998" y2="725.7" stroke="#a8a8a8" stroke-width="1"/><text x="25.3" y="674.2" text-anchor="end">16N</text><line x1="27.999999999999996" y1="669.2" x2="30.599999999999998" y2="669.2" stroke="#a8a8a8" stroke-width="1"/><text x="25.3" y="617.7" text-anchor="end">17N</text><line x1="27.999999999999996" y1="612.7" x2="30.599999999999998" y2="612.7" stroke="#a8a8a8" stroke-width="1"/><text x="25.3" y="561.1" text-anchor="end">18N</text><line x1="27.999999999999996" y1="556.1" x2="30.599999999999998" y2="556.1" stroke="#a8a8a8" stroke-width="1"/><text x="25.3" y="504.6" text-anchor="end">19N</text><line x1="27.999999999999996" y1="499.6" x2="30.599999999999998" y2="499.6" stroke="#a8a8a8" stroke-width="1"/><text x="25.3" y="448.0" text-anchor="end">20N</text><line x1="27.999999999999996" y1="443.0" x2="30.599999999999998" y2="443.0" stroke="#a8a8a8" stroke-width="1"/><text x="25.3" y="391.5" text-anchor="end">21N</text><line x1="27.999999999999996" y1="386.5" x2="30.599999999999998" y2="386.5" stroke="#a8a8a8" stroke-width="1"/><text x="25.3" y="335.0" text-anchor="end">22N</text><line x1="27.999999999999996" y1="330.0" x2="30.599999999999998" y2="330.0" stroke="#a8a8a8" stroke-width="1"/><text x="25.3" y="278.4" text-anchor="end">23N</text><line x1="27.999999999999996" y1="273.4" x2="30.599999999999998" y2="273.4" stroke="#a8a8a8" stroke-width="1"/><text x="25.3" y="221.9" text-anchor="end">24N</text><line x1="27.999999999999996" y1="216.9" x2="30.599999999999998" y2="216.9" stroke="#a8a8a8" stroke-width="1"/><text x="25.3" y="165.3" text-anchor="end">25N</text><line x1="27.999999999999996" y1="160.3" x2="30.599999999999998" y2="160.3" stroke="#a8a8a8" stroke-width="1"/><text x="25.3" y="108.8" text-anchor="end">26N</text><line x1="27.999999999999996" y1="103.8" x2="30.599999999999998" y2="103.8" stroke="#a8a8a8" stroke-width="1"/></g>
<rect x="916" y="877.5" width="208.5" height="20.5" fill="#fff" stroke="#c8c8c8" stroke-width="1"/>
<g font-family="Liberation Sans, sans-serif" font-size="15">
<text x="931.4" y="893.6" fill="#1a96f5" textLength="21.2" lengthAdjust="spacingAndGlyphs">Sis</text>
<text x="954.8" y="893.6" fill="#1e3cff" font-size="19" textLength="14" lengthAdjust="spacingAndGlyphs">&#960;</text>
<text x="974.3" y="893.6" fill="#505050" textLength="8.7" lengthAdjust="spacingAndGlyphs">&#8211;</text>
<text x="992.7" y="893.6" fill="#505050" textLength="125.6" lengthAdjust="spacingAndGlyphs">ONAMET/REP.DOM.</text>
</g>
</svg>
</body></html>
